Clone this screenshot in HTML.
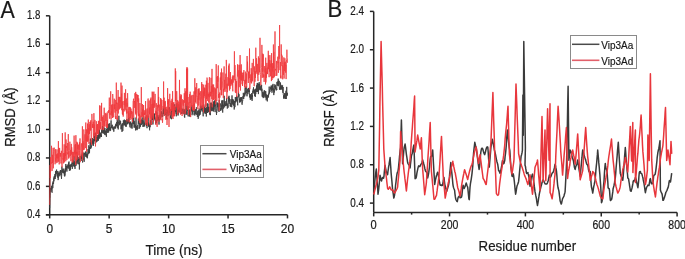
<!DOCTYPE html>
<html><head><meta charset="utf-8"><style>
html,body{margin:0;padding:0;background:#fff;width:685px;height:259px;overflow:hidden}
svg{display:block;filter:blur(0.35px)}
text{font-family:"Liberation Sans",sans-serif;fill:#1a1a1a;stroke:#1a1a1a;stroke-width:0.2px}
</style></head><body>
<svg width="685" height="259" viewBox="0 0 685 259">
<rect width="685" height="259" fill="#fff"/>
<g fill="none" stroke="#262626" stroke-width="1.5">
<path d="M49.7 15.8V214.8M45.900000000000006 214.8H287.5" /><path d="M45.900000000000006 214.80H49.7" /><path d="M45.900000000000006 186.37H49.7" /><path d="M45.900000000000006 157.94H49.7" /><path d="M45.900000000000006 129.51H49.7" /><path d="M45.900000000000006 101.09H49.7" /><path d="M45.900000000000006 72.66H49.7" /><path d="M45.900000000000006 44.23H49.7" /><path d="M45.900000000000006 15.80H49.7" /><path d="M49.70 214.8V218.4" /><path d="M109.15 214.8V218.4" /><path d="M168.60 214.8V218.4" /><path d="M228.05 214.8V218.4" /><path d="M287.50 214.8V218.4" /><path d="M373.7 11.40V212.4M373.7 212.4H677.1" /><path d="M369.9 203.10H373.7" /><path d="M369.9 164.76H373.7" /><path d="M369.9 126.42H373.7" /><path d="M369.9 88.08H373.7" /><path d="M369.9 49.74H373.7" /><path d="M369.9 11.40H373.7" /><path d="M373.70 212.4V216.4" /><path d="M411.62 212.4V214.6" /><path d="M449.55 212.4V216.4" /><path d="M487.48 212.4V214.6" /><path d="M525.40 212.4V216.4" /><path d="M563.33 212.4V214.6" /><path d="M601.25 212.4V216.4" /><path d="M639.17 212.4V214.6" /><path d="M677.10 212.4V216.4" />
</g>
<g fill="none" stroke-linejoin="round">
<path d="M49.7 208.1L49.8 202.4 49.9 198.2 50.1 197.8 50.2 195.2 50.3 193.9 50.4 192.2 50.5 188.0 50.7 189.8 50.8 191.6 50.9 189.3 51.0 187.8 51.1 187.8 51.2 190.0 51.4 189.1 51.5 185.8 51.6 188.8 51.7 188.1 51.8 191.9 52.0 192.2 52.1 192.7 52.2 188.3 52.3 188.6 52.4 184.3 52.6 182.8 52.7 182.7 52.8 188.1 52.9 185.5 53.0 183.6 53.1 181.3 53.3 183.6 53.4 182.8 53.5 183.8 53.6 183.2 53.7 178.4 53.9 181.3 54.0 179.7 54.1 176.5 54.2 178.6 54.3 177.2 54.5 176.2 54.6 176.2 54.7 179.1 54.8 177.9 54.9 174.1 55.1 179.0 55.2 175.8 55.3 176.1 55.4 177.1 55.5 171.1 55.6 170.9 55.8 175.6 55.9 174.6 56.0 172.5 56.1 173.6 56.2 171.2 56.4 172.7 56.5 171.6 56.6 169.6 56.7 173.7 56.8 173.2 57.0 174.1 57.1 173.7 57.2 176.6 57.3 176.7 57.4 176.0 57.5 173.3 57.7 171.0 57.8 176.7 57.9 177.8 58.0 174.8 58.1 180.1 58.3 179.2 58.4 178.1 58.5 172.9 58.6 172.8 58.7 174.0 58.9 174.9 59.0 175.3 59.1 171.5 59.2 173.6 59.3 173.9 59.4 173.2 59.6 173.9 59.7 173.9 59.8 176.3 59.9 174.0 60.0 174.6 60.2 170.5 60.3 170.5 60.4 170.9 60.5 170.2 60.6 173.2 60.8 170.8 60.9 172.1 61.0 170.4 61.1 174.8 61.2 172.9 61.4 176.7 61.5 178.9 61.6 176.1 61.7 175.6 61.8 172.9 61.9 166.6 62.1 170.9 62.2 172.6 62.3 171.8 62.4 169.9 62.5 171.5 62.7 171.6 62.8 169.2 62.9 168.7 63.0 172.7 63.1 172.1 63.3 171.3 63.4 173.3 63.5 171.1 63.6 172.3 63.7 168.8 63.8 168.8 64.0 169.8 64.1 171.2 64.2 170.9 64.3 175.5 64.4 175.0 64.6 171.0 64.7 176.5 64.8 171.2 64.9 175.5 65.0 170.6 65.2 171.2 65.3 168.2 65.4 168.2 65.5 172.3 65.6 167.3 65.8 164.0 65.9 165.7 66.0 167.8 66.1 167.6 66.2 170.2 66.3 165.9 66.5 167.4 66.6 166.8 66.7 169.0 66.8 169.7 66.9 171.6 67.1 166.2 67.2 166.5 67.3 164.6 67.4 165.6 67.5 167.6 67.7 167.6 67.8 168.1 67.9 166.4 68.0 166.6 68.1 166.3 68.2 168.7 68.4 167.8 68.5 162.6 68.6 164.6 68.7 167.0 68.8 164.9 69.0 161.5 69.1 167.4 69.2 166.9 69.3 167.9 69.4 170.8 69.6 166.8 69.7 165.6 69.8 164.9 69.9 166.7 70.0 164.8 70.2 166.5 70.3 166.6 70.4 169.0 70.5 170.3 70.6 164.6 70.7 166.9 70.9 165.7 71.0 166.2 71.1 167.0 71.2 166.8 71.3 163.9 71.5 165.0 71.6 165.8 71.7 165.9 71.8 163.4 71.9 162.5 72.1 163.2 72.2 165.6 72.3 168.9 72.4 164.6 72.5 161.7 72.6 163.5 72.8 162.6 72.9 161.8 73.0 160.7 73.1 160.4 73.2 163.8 73.4 160.8 73.5 166.2 73.6 163.1 73.7 161.3 73.8 160.5 74.0 156.8 74.1 156.0 74.2 162.5 74.3 166.9 74.4 162.9 74.6 165.6 74.7 163.3 74.8 161.3 74.9 165.8 75.0 168.9 75.1 165.0 75.3 163.3 75.4 162.7 75.5 161.9 75.6 163.4 75.7 165.5 75.9 164.3 76.0 164.4 76.1 165.5 76.2 160.9 76.3 159.7 76.5 158.9 76.6 161.7 76.7 162.5 76.8 163.8 76.9 163.6 77.0 161.4 77.2 162.6 77.3 161.1 77.4 160.0 77.5 155.2 77.6 161.5 77.8 159.2 77.9 159.4 78.0 160.2 78.1 164.2 78.2 163.9 78.4 160.0 78.5 159.4 78.6 159.0 78.7 160.1 78.8 157.1 78.9 157.9 79.1 164.3 79.2 162.8 79.3 164.9 79.4 169.5 79.5 164.8 79.7 157.7 79.8 156.8 79.9 160.2 80.0 160.5 80.1 156.0 80.3 156.5 80.4 156.8 80.5 157.2 80.6 157.7 80.7 156.4 80.9 156.4 81.0 156.4 81.1 158.9 81.2 156.5 81.3 157.9 81.4 154.7 81.6 158.8 81.7 157.9 81.8 157.7 81.9 161.0 82.0 155.0 82.2 152.7 82.3 156.7 82.4 155.1 82.5 155.5 82.6 162.5 82.8 159.1 82.9 158.4 83.0 157.6 83.1 160.1 83.2 159.5 83.3 159.0 83.5 154.9 83.6 154.7 83.7 155.1 83.8 152.5 83.9 156.1 84.1 157.7 84.2 161.8 84.3 155.7 84.4 154.2 84.5 153.0 84.7 153.0 84.8 154.8 84.9 154.5 85.0 155.3 85.1 156.1 85.3 155.2 85.4 151.7 85.5 151.5 85.6 153.3 85.7 155.6 85.8 156.8 86.0 152.1 86.1 152.1 86.2 153.0 86.3 154.4 86.4 157.2 86.6 157.3 86.7 154.1 86.8 156.4 86.9 156.4 87.0 155.7 87.2 154.6 87.3 158.3 87.4 156.7 87.5 157.2 87.6 153.4 87.7 155.5 87.9 153.4 88.0 149.1 88.1 151.5 88.2 152.9 88.3 151.8 88.5 151.6 88.6 153.8 88.7 151.0 88.8 145.3 88.9 148.1 89.1 149.5 89.2 152.4 89.3 149.4 89.4 152.2 89.5 153.2 89.7 146.9 89.8 149.0 89.9 145.0 90.0 142.1 90.1 142.6 90.2 142.4 90.4 138.6 90.5 142.0 90.6 145.2 90.7 148.9 90.8 146.6 91.0 141.8 91.1 140.8 91.2 145.3 91.3 147.5 91.4 147.5 91.6 145.9 91.7 145.4 91.8 143.8 91.9 141.6 92.0 142.1 92.1 142.1 92.3 141.7 92.4 143.4 92.5 142.2 92.6 138.0 92.7 138.5 92.9 139.9 93.0 144.6 93.1 141.8 93.2 145.8 93.3 146.0 93.5 141.3 93.6 139.1 93.7 140.6 93.8 143.9 93.9 142.0 94.0 141.7 94.2 138.9 94.3 133.1 94.4 135.2 94.5 138.6 94.6 141.2 94.8 139.5 94.9 139.2 95.0 140.9 95.1 138.7 95.2 140.9 95.4 136.3 95.5 134.3 95.6 132.8 95.7 136.1 95.8 135.1 96.0 136.4 96.1 138.2 96.2 138.1 96.3 141.1 96.4 142.3 96.5 137.3 96.7 138.1 96.8 137.5 96.9 135.1 97.0 140.8 97.1 141.6 97.3 138.9 97.4 137.3 97.5 138.1 97.6 135.2 97.7 135.4 97.9 139.4 98.0 140.5 98.1 136.4 98.2 135.2 98.3 140.6 98.4 135.6 98.6 134.5 98.7 131.8 98.8 134.9 98.9 136.4 99.0 138.7 99.2 129.7 99.3 132.6 99.4 129.4 99.5 133.1 99.6 134.2 99.8 138.4 99.9 137.7 100.0 133.1 100.1 136.7 100.2 132.9 100.4 132.6 100.5 135.6 100.6 136.0 100.7 135.9 100.8 135.4 100.9 136.0 101.1 136.6 101.2 134.8 101.3 135.9 101.4 137.0 101.5 133.9 101.7 129.8 101.8 133.1 101.9 130.9 102.0 131.8 102.1 132.9 102.3 128.9 102.4 130.2 102.5 125.9 102.6 129.7 102.7 129.6 102.8 130.7 103.0 133.4 103.1 130.8 103.2 131.4 103.3 130.5 103.4 130.8 103.6 133.4 103.7 132.3 103.8 130.6 103.9 127.1 104.0 130.9 104.2 129.9 104.3 133.5 104.4 129.5 104.5 131.4 104.6 134.6 104.8 132.0 104.9 128.0 105.0 132.7 105.1 133.8 105.2 134.1 105.3 135.2 105.5 131.5 105.6 132.6 105.7 132.8 105.8 130.6 105.9 132.6 106.1 130.7 106.2 133.0 106.3 134.9 106.4 136.8 106.5 128.8 106.7 130.1 106.8 129.3 106.9 129.2 107.0 129.0 107.1 128.5 107.2 123.7 107.4 128.6 107.5 132.3 107.6 132.5 107.7 133.0 107.8 127.9 108.0 125.2 108.1 127.9 108.2 130.5 108.3 128.7 108.4 123.8 108.6 132.5 108.7 127.6 108.8 129.3 108.9 125.5 109.0 128.6 109.2 128.5 109.3 130.3 109.4 130.1 109.5 125.0 109.6 123.3 109.7 125.7 109.9 127.0 110.0 131.1 110.1 130.2 110.2 128.3 110.3 127.6 110.5 127.3 110.6 130.6 110.7 128.9 110.8 127.3 110.9 124.3 111.1 120.4 111.2 124.0 111.3 126.1 111.4 125.9 111.5 127.2 111.6 127.7 111.8 126.3 111.9 128.3 112.0 124.8 112.1 125.2 112.2 125.2 112.4 124.9 112.5 126.8 112.6 128.4 112.7 127.2 112.8 128.1 113.0 126.9 113.1 126.8 113.2 130.1 113.3 127.9 113.4 129.8 113.5 129.4 113.7 128.1 113.8 131.7 113.9 128.7 114.0 126.6 114.1 126.8 114.3 126.8 114.4 126.7 114.5 128.2 114.6 127.9 114.7 128.0 114.9 126.9 115.0 128.9 115.1 126.5 115.2 125.9 115.3 125.7 115.5 126.2 115.6 124.4 115.7 128.2 115.8 125.3 115.9 124.4 116.0 123.7 116.2 123.5 116.3 126.0 116.4 126.2 116.5 123.3 116.6 122.1 116.8 122.6 116.9 126.2 117.0 123.4 117.1 120.2 117.2 118.7 117.4 120.1 117.5 124.2 117.6 120.7 117.7 122.2 117.8 128.1 117.9 124.4 118.1 127.2 118.2 129.4 118.3 127.8 118.4 122.2 118.5 123.3 118.7 122.0 118.8 117.3 118.9 115.8 119.0 118.9 119.1 121.4 119.3 125.2 119.4 125.2 119.5 122.6 119.6 122.2 119.7 122.2 119.9 120.3 120.0 124.0 120.1 123.8 120.2 122.0 120.3 122.1 120.4 121.1 120.6 121.3 120.7 124.2 120.8 123.6 120.9 126.4 121.0 129.3 121.2 126.0 121.3 125.7 121.4 124.6 121.5 128.6 121.6 127.8 121.8 128.4 121.9 128.6 122.0 131.9 122.1 128.9 122.2 124.8 122.3 123.7 122.5 125.6 122.6 124.8 122.7 123.3 122.8 130.9 122.9 128.4 123.1 125.9 123.2 124.0 123.3 120.5 123.4 120.3 123.5 122.0 123.7 123.5 123.8 122.7 123.9 125.4 124.0 125.4 124.1 122.7 124.3 119.6 124.4 123.7 124.5 124.9 124.6 124.7 124.7 120.9 124.8 122.6 125.0 120.2 125.1 124.4 125.2 125.1 125.3 126.0 125.4 122.5 125.6 120.5 125.7 125.6 125.8 126.6 125.9 123.3 126.0 124.4 126.2 126.7 126.3 122.2 126.4 121.8 126.5 120.7 126.6 122.2 126.7 119.4 126.9 121.3 127.0 118.9 127.1 123.2 127.2 124.4 127.3 122.5 127.5 123.8 127.6 121.1 127.7 120.5 127.8 123.3 127.9 122.1 128.1 123.4 128.2 120.5 128.3 122.0 128.4 123.1 128.5 119.7 128.6 115.1 128.8 113.2 128.9 117.1 129.0 119.6 129.1 117.1 129.2 120.6 129.4 124.5 129.5 123.3 129.6 122.2 129.7 124.4 129.8 126.3 130.0 127.3 130.1 122.6 130.2 124.4 130.3 123.8 130.4 123.0 130.6 121.6 130.7 123.7 130.8 122.7 130.9 125.5 131.0 126.0 131.1 128.2 131.3 124.3 131.4 124.6 131.5 126.6 131.6 126.1 131.7 125.3 131.9 123.1 132.0 127.2 132.1 128.6 132.2 126.5 132.3 118.2 132.5 118.4 132.6 121.6 132.7 120.7 132.8 117.9 132.9 122.0 133.0 123.8 133.2 121.0 133.3 121.6 133.4 120.8 133.5 124.1 133.6 119.2 133.8 117.6 133.9 119.9 134.0 120.2 134.1 127.6 134.2 123.6 134.4 124.4 134.5 122.1 134.6 121.3 134.7 122.8 134.8 127.5 135.0 125.1 135.1 126.2 135.2 125.4 135.3 126.4 135.4 125.4 135.5 130.4 135.7 123.9 135.8 122.9 135.9 120.1 136.0 117.5 136.1 119.9 136.3 125.7 136.4 126.7 136.5 128.3 136.6 127.9 136.7 126.4 136.9 130.2 137.0 126.5 137.1 129.6 137.2 126.7 137.3 125.3 137.4 125.6 137.6 125.3 137.7 125.6 137.8 126.1 137.9 129.0 138.0 126.6 138.2 121.4 138.3 118.6 138.4 118.5 138.5 120.0 138.6 123.8 138.8 120.3 138.9 122.2 139.0 123.1 139.1 124.5 139.2 125.0 139.4 126.2 139.5 126.1 139.6 128.6 139.7 128.0 139.8 121.5 139.9 124.2 140.1 125.5 140.2 124.2 140.3 123.3 140.4 126.9 140.5 126.5 140.7 123.9 140.8 123.9 140.9 123.3 141.0 120.1 141.1 123.3 141.3 122.6 141.4 123.4 141.5 119.6 141.6 125.0 141.7 125.0 141.8 124.8 142.0 121.7 142.1 120.0 142.2 117.3 142.3 123.4 142.4 120.1 142.6 121.7 142.7 123.7 142.8 121.1 142.9 123.3 143.0 126.9 143.2 125.3 143.3 126.5 143.4 125.0 143.5 121.1 143.6 120.3 143.7 116.3 143.9 118.9 144.0 124.2 144.1 124.9 144.2 124.9 144.3 126.1 144.5 122.8 144.6 123.2 144.7 126.5 144.8 121.3 144.9 121.3 145.1 120.0 145.2 119.4 145.3 118.5 145.4 119.7 145.5 116.8 145.7 116.9 145.8 118.0 145.9 119.4 146.0 124.7 146.1 124.3 146.2 124.2 146.4 122.6 146.5 125.9 146.6 120.4 146.7 121.2 146.8 125.3 147.0 128.2 147.1 126.4 147.2 123.6 147.3 124.0 147.4 122.8 147.6 124.2 147.7 122.0 147.8 124.6 147.9 124.1 148.0 121.5 148.1 115.7 148.3 121.9 148.4 123.9 148.5 126.2 148.6 123.5 148.7 126.5 148.9 126.4 149.0 124.6 149.1 126.6 149.2 126.8 149.3 125.8 149.5 129.3 149.6 130.3 149.7 128.2 149.8 125.0 149.9 123.7 150.1 127.2 150.2 125.3 150.3 121.6 150.4 120.4 150.5 121.5 150.6 123.4 150.8 120.7 150.9 122.5 151.0 124.9 151.1 124.9 151.2 119.3 151.4 119.9 151.5 116.9 151.6 119.7 151.7 117.5 151.8 119.6 152.0 119.4 152.1 113.2 152.2 114.1 152.3 118.2 152.4 119.3 152.5 119.7 152.7 116.6 152.8 120.3 152.9 124.5 153.0 123.5 153.1 122.4 153.3 121.5 153.4 117.9 153.5 118.3 153.6 116.6 153.7 120.7 153.9 117.6 154.0 113.4 154.1 114.2 154.2 115.8 154.3 117.2 154.5 113.8 154.6 118.8 154.7 119.2 154.8 117.8 154.9 116.8 155.0 119.4 155.2 118.4 155.3 120.3 155.4 120.1 155.5 119.9 155.6 123.8 155.8 122.7 155.9 119.4 156.0 123.2 156.1 121.7 156.2 120.4 156.4 122.8 156.5 120.4 156.6 122.3 156.7 118.1 156.8 112.8 156.9 111.4 157.1 115.6 157.2 116.0 157.3 117.6 157.4 117.8 157.5 115.1 157.7 120.6 157.8 117.3 157.9 119.0 158.0 115.3 158.1 116.5 158.3 119.9 158.4 118.8 158.5 117.5 158.6 118.6 158.7 117.7 158.9 120.1 159.0 124.6 159.1 119.9 159.2 117.4 159.3 117.6 159.4 117.5 159.6 115.4 159.7 118.0 159.8 120.3 159.9 119.6 160.0 115.4 160.2 118.8 160.3 114.0 160.4 116.3 160.5 118.6 160.6 113.7 160.8 114.7 160.9 117.5 161.0 116.5 161.1 113.4 161.2 111.3 161.3 113.4 161.5 112.6 161.6 111.6 161.7 113.9 161.8 113.0 161.9 113.5 162.1 115.1 162.2 116.6 162.3 115.1 162.4 115.1 162.5 116.5 162.7 117.0 162.8 112.9 162.9 113.1 163.0 111.5 163.1 110.6 163.2 111.3 163.4 108.0 163.5 113.4 163.6 111.9 163.7 114.0 163.8 108.6 164.0 106.5 164.1 114.3 164.2 115.7 164.3 112.5 164.4 110.0 164.6 108.6 164.7 110.7 164.8 109.6 164.9 108.5 165.0 109.5 165.2 107.3 165.3 114.9 165.4 111.8 165.5 113.2 165.6 109.3 165.7 111.0 165.9 113.0 166.0 111.1 166.1 114.0 166.2 116.1 166.3 118.8 166.5 115.8 166.6 113.1 166.7 110.5 166.8 111.8 166.9 109.3 167.1 111.6 167.2 112.6 167.3 111.7 167.4 110.3 167.5 112.9 167.6 113.8 167.8 114.0 167.9 114.0 168.0 116.2 168.1 111.5 168.2 113.5 168.4 112.8 168.5 114.9 168.6 112.8 168.7 111.6 168.8 113.6 169.0 107.7 169.1 109.3 169.2 106.9 169.3 107.6 169.4 111.7 169.6 112.7 169.7 110.9 169.8 111.1 169.9 110.7 170.0 111.4 170.1 115.1 170.3 113.8 170.4 118.4 170.5 113.5 170.6 114.4 170.7 114.7 170.9 113.5 171.0 111.9 171.1 115.2 171.2 116.9 171.3 117.5 171.5 119.2 171.6 116.5 171.7 109.3 171.8 112.1 171.9 109.1 172.0 111.8 172.2 109.9 172.3 110.3 172.4 109.9 172.5 107.9 172.6 104.0 172.8 105.7 172.9 107.0 173.0 110.2 173.1 108.3 173.2 109.5 173.4 107.4 173.5 108.4 173.6 105.1 173.7 111.5 173.8 111.1 174.0 108.5 174.1 109.5 174.2 111.7 174.3 111.1 174.4 113.6 174.5 111.1 174.7 104.2 174.8 104.3 174.9 109.7 175.0 110.9 175.1 111.9 175.3 108.3 175.4 110.8 175.5 112.4 175.6 109.6 175.7 107.0 175.9 109.4 176.0 111.4 176.1 113.8 176.2 113.0 176.3 116.3 176.4 110.5 176.6 110.7 176.7 108.2 176.8 103.7 176.9 103.2 177.0 108.1 177.2 105.7 177.3 104.5 177.4 108.8 177.5 111.2 177.6 110.8 177.8 114.3 177.9 108.8 178.0 115.5 178.1 115.5 178.2 113.1 178.3 112.0 178.5 109.6 178.6 108.7 178.7 108.0 178.8 104.6 178.9 111.2 179.1 109.6 179.2 111.8 179.3 110.2 179.4 109.2 179.5 110.7 179.7 111.9 179.8 107.9 179.9 107.7 180.0 109.8 180.1 105.5 180.3 102.2 180.4 110.0 180.5 109.3 180.6 103.6 180.7 105.5 180.8 107.1 181.0 109.0 181.1 110.7 181.2 110.5 181.3 111.0 181.4 108.5 181.6 110.7 181.7 112.2 181.8 114.0 181.9 112.1 182.0 113.4 182.2 112.5 182.3 109.0 182.4 109.0 182.5 108.8 182.6 109.4 182.7 109.3 182.9 110.0 183.0 111.2 183.1 109.7 183.2 113.4 183.3 108.8 183.5 109.6 183.6 112.2 183.7 112.8 183.8 113.8 183.9 112.6 184.1 113.4 184.2 109.4 184.3 111.2 184.4 116.7 184.5 115.5 184.7 117.7 184.8 114.3 184.9 110.4 185.0 109.6 185.1 113.9 185.2 114.5 185.4 108.7 185.5 109.0 185.6 109.8 185.7 107.7 185.8 103.4 186.0 104.2 186.1 107.2 186.2 107.9 186.3 107.8 186.4 110.7 186.6 113.5 186.7 112.7 186.8 114.9 186.9 113.2 187.0 112.0 187.1 105.3 187.3 110.2 187.4 110.6 187.5 110.6 187.6 109.0 187.7 107.3 187.9 110.3 188.0 112.6 188.1 116.3 188.2 116.1 188.3 112.1 188.5 111.7 188.6 113.2 188.7 113.0 188.8 112.0 188.9 110.5 189.1 112.7 189.2 112.7 189.3 116.7 189.4 116.3 189.5 109.5 189.6 115.5 189.8 114.2 189.9 112.8 190.0 113.4 190.1 115.2 190.2 113.6 190.4 113.0 190.5 112.3 190.6 116.5 190.7 114.2 190.8 115.0 191.0 114.6 191.1 112.3 191.2 110.0 191.3 108.8 191.4 111.3 191.5 108.0 191.7 106.5 191.8 106.0 191.9 105.4 192.0 109.5 192.1 110.7 192.3 109.1 192.4 113.6 192.5 111.3 192.6 111.3 192.7 112.0 192.9 115.2 193.0 114.8 193.1 112.4 193.2 109.0 193.3 107.3 193.5 108.4 193.6 109.4 193.7 111.5 193.8 109.2 193.9 109.6 194.0 107.8 194.2 104.2 194.3 106.2 194.4 111.1 194.5 112.3 194.6 114.9 194.8 115.5 194.9 110.3 195.0 110.0 195.1 114.3 195.2 112.1 195.4 109.1 195.5 111.4 195.6 113.4 195.7 114.2 195.8 112.3 195.9 111.1 196.1 109.6 196.2 108.9 196.3 108.5 196.4 107.3 196.5 108.2 196.7 114.3 196.8 114.5 196.9 113.6 197.0 115.0 197.1 112.3 197.3 114.8 197.4 116.9 197.5 111.8 197.6 111.4 197.7 111.9 197.8 111.0 198.0 110.5 198.1 112.0 198.2 118.8 198.3 117.6 198.4 116.9 198.6 117.1 198.7 114.7 198.8 110.4 198.9 112.4 199.0 115.3 199.2 108.5 199.3 111.7 199.4 115.4 199.5 114.0 199.6 112.4 199.8 114.3 199.9 111.6 200.0 113.5 200.1 114.7 200.2 113.0 200.3 110.8 200.5 112.5 200.6 110.5 200.7 110.8 200.8 104.7 200.9 110.1 201.1 107.2 201.2 109.4 201.3 110.0 201.4 109.2 201.5 107.7 201.7 106.4 201.8 107.3 201.9 110.5 202.0 111.4 202.1 109.8 202.2 109.3 202.4 107.1 202.5 108.4 202.6 107.7 202.7 105.4 202.8 107.2 203.0 112.4 203.1 114.8 203.2 116.3 203.3 109.9 203.4 111.9 203.6 107.9 203.7 107.3 203.8 104.5 203.9 105.5 204.0 108.6 204.2 110.6 204.3 110.5 204.4 110.1 204.5 112.1 204.6 111.8 204.7 106.8 204.9 113.2 205.0 111.6 205.1 113.6 205.2 112.1 205.3 109.7 205.5 110.4 205.6 108.0 205.7 113.7 205.8 109.5 205.9 111.5 206.1 109.5 206.2 109.6 206.3 116.5 206.4 114.9 206.5 112.1 206.6 107.3 206.8 108.0 206.9 108.3 207.0 112.6 207.1 107.2 207.2 103.8 207.4 106.3 207.5 108.2 207.6 113.0 207.7 109.3 207.8 103.2 208.0 104.7 208.1 104.4 208.2 106.3 208.3 110.6 208.4 106.8 208.6 112.1 208.7 111.0 208.8 109.6 208.9 107.4 209.0 106.9 209.1 106.9 209.3 110.1 209.4 111.8 209.5 110.4 209.6 111.3 209.7 112.8 209.9 114.1 210.0 112.7 210.1 115.1 210.2 114.0 210.3 115.1 210.5 111.0 210.6 108.0 210.7 102.7 210.8 109.2 210.9 109.9 211.0 106.4 211.2 107.3 211.3 107.7 211.4 102.7 211.5 105.3 211.6 108.6 211.8 111.2 211.9 108.3 212.0 106.8 212.1 110.3 212.2 111.0 212.4 108.1 212.5 105.7 212.6 106.9 212.7 105.0 212.8 103.9 212.9 109.4 213.1 107.9 213.2 105.5 213.3 106.8 213.4 111.5 213.5 109.2 213.7 106.0 213.8 101.9 213.9 109.6 214.0 101.1 214.1 106.2 214.3 103.2 214.4 101.3 214.5 100.5 214.6 102.8 214.7 106.7 214.9 104.5 215.0 106.6 215.1 112.1 215.2 101.3 215.3 102.2 215.4 99.4 215.6 105.4 215.7 101.7 215.8 100.7 215.9 100.3 216.0 104.5 216.2 108.4 216.3 108.8 216.4 113.6 216.5 115.0 216.6 111.9 216.8 112.6 216.9 110.5 217.0 109.6 217.1 103.5 217.2 102.4 217.3 105.0 217.5 103.3 217.6 107.0 217.7 107.0 217.8 104.2 217.9 108.1 218.1 108.0 218.2 110.8 218.3 107.8 218.4 103.4 218.5 107.2 218.7 106.5 218.8 108.9 218.9 109.8 219.0 112.0 219.1 105.7 219.3 100.0 219.4 102.4 219.5 106.6 219.6 104.8 219.7 105.8 219.8 104.2 220.0 105.2 220.1 104.8 220.2 103.3 220.3 106.0 220.4 107.7 220.6 110.6 220.7 109.3 220.8 110.6 220.9 108.3 221.0 109.3 221.2 107.3 221.3 104.5 221.4 107.4 221.5 108.6 221.6 109.4 221.7 104.6 221.9 100.4 222.0 100.8 222.1 103.6 222.2 100.7 222.3 106.5 222.5 102.3 222.6 105.6 222.7 112.6 222.8 102.4 222.9 100.4 223.1 105.8 223.2 105.4 223.3 105.5 223.4 104.9 223.5 108.6 223.7 108.2 223.8 105.1 223.9 103.8 224.0 100.7 224.1 101.3 224.2 95.8 224.4 100.9 224.5 101.3 224.6 106.4 224.7 107.3 224.8 101.6 225.0 105.0 225.1 103.7 225.2 103.8 225.3 106.0 225.4 105.2 225.6 106.0 225.7 105.5 225.8 102.7 225.9 101.2 226.0 103.5 226.1 105.8 226.3 104.2 226.4 105.1 226.5 102.6 226.6 98.0 226.7 99.5 226.9 102.4 227.0 103.8 227.1 106.2 227.2 107.9 227.3 108.6 227.5 107.6 227.6 106.9 227.7 103.6 227.8 105.3 227.9 105.2 228.1 107.7 228.2 101.9 228.3 101.3 228.4 97.2 228.5 98.1 228.6 96.9 228.8 101.6 228.9 101.0 229.0 95.8 229.1 103.8 229.2 101.1 229.4 98.3 229.5 100.5 229.6 100.6 229.7 99.7 229.8 103.5 230.0 103.5 230.1 106.3 230.2 106.3 230.3 106.4 230.4 105.0 230.5 103.8 230.7 102.9 230.8 106.8 230.9 99.9 231.0 99.1 231.1 99.3 231.3 101.7 231.4 101.9 231.5 101.4 231.6 101.5 231.7 107.2 231.9 103.0 232.0 95.4 232.1 103.3 232.2 100.7 232.3 101.3 232.4 102.4 232.6 99.2 232.7 104.4 232.8 103.2 232.9 99.1 233.0 101.3 233.2 103.4 233.3 103.8 233.4 105.0 233.5 100.3 233.6 104.3 233.8 101.8 233.9 106.1 234.0 102.8 234.1 103.2 234.2 109.5 234.4 106.6 234.5 107.7 234.6 106.3 234.7 101.0 234.8 105.3 234.9 107.1 235.1 100.8 235.2 101.2 235.3 97.1 235.4 98.5 235.5 102.2 235.7 102.5 235.8 99.2 235.9 97.4 236.0 99.0 236.1 99.4 236.3 99.8 236.4 101.3 236.5 95.7 236.6 97.6 236.7 101.2 236.8 101.2 237.0 98.1 237.1 96.7 237.2 98.3 237.3 100.4 237.4 100.0 237.6 103.4 237.7 105.3 237.8 100.5 237.9 100.2 238.0 98.5 238.2 96.0 238.3 95.8 238.4 96.7 238.5 92.2 238.6 93.3 238.8 96.5 238.9 95.5 239.0 94.3 239.1 97.6 239.2 97.2 239.3 97.7 239.5 102.3 239.6 99.9 239.7 98.8 239.8 98.7 239.9 102.5 240.1 100.5 240.2 99.1 240.3 98.1 240.4 101.4 240.5 98.4 240.7 101.8 240.8 100.7 240.9 97.0 241.0 99.7 241.1 100.5 241.2 97.4 241.4 99.5 241.5 100.4 241.6 98.9 241.7 97.2 241.8 104.0 242.0 104.4 242.1 104.8 242.2 104.5 242.3 104.1 242.4 103.6 242.6 100.6 242.7 101.0 242.8 98.6 242.9 96.3 243.0 98.8 243.2 98.0 243.3 92.9 243.4 93.9 243.5 96.8 243.6 96.5 243.7 99.0 243.9 96.5 244.0 93.9 244.1 96.5 244.2 96.5 244.3 92.7 244.5 95.1 244.6 93.9 244.7 95.9 244.8 96.2 244.9 95.4 245.1 88.1 245.2 92.1 245.3 93.3 245.4 94.3 245.5 93.6 245.6 91.3 245.8 91.8 245.9 87.2 246.0 89.0 246.1 86.2 246.2 88.3 246.4 88.7 246.5 93.0 246.6 92.6 246.7 91.1 246.8 91.2 247.0 96.3 247.1 90.7 247.2 90.5 247.3 91.5 247.4 90.6 247.5 90.8 247.7 88.7 247.8 92.4 247.9 94.2 248.0 91.6 248.1 90.5 248.3 90.6 248.4 91.0 248.5 92.2 248.6 91.2 248.7 88.0 248.9 92.0 249.0 88.0 249.1 87.8 249.2 92.0 249.3 90.4 249.5 95.2 249.6 97.2 249.7 97.5 249.8 95.9 249.9 94.7 250.0 95.3 250.2 94.1 250.3 99.8 250.4 95.1 250.5 97.7 250.6 97.8 250.8 97.0 250.9 98.1 251.0 99.2 251.1 98.9 251.2 96.8 251.4 94.5 251.5 93.2 251.6 96.1 251.7 97.7 251.8 99.2 251.9 95.8 252.1 100.9 252.2 94.7 252.3 96.0 252.4 97.1 252.5 94.4 252.7 91.5 252.8 91.7 252.9 90.7 253.0 92.7 253.1 90.6 253.3 88.8 253.4 90.9 253.5 87.3 253.6 89.1 253.7 90.1 253.9 92.6 254.0 92.5 254.1 89.8 254.2 94.0 254.3 90.5 254.4 90.1 254.6 89.6 254.7 96.1 254.8 93.2 254.9 90.6 255.0 92.0 255.2 91.4 255.3 96.9 255.4 91.4 255.5 92.5 255.6 89.1 255.8 94.1 255.9 91.2 256.0 91.2 256.1 88.4 256.2 91.7 256.3 92.0 256.5 85.4 256.6 89.8 256.7 91.3 256.8 91.1 256.9 91.5 257.1 87.4 257.2 83.2 257.3 86.7 257.4 91.9 257.5 87.5 257.7 84.6 257.8 84.1 257.9 82.9 258.0 86.8 258.1 87.5 258.3 91.2 258.4 94.1 258.5 88.9 258.6 90.8 258.7 84.0 258.8 86.0 259.0 89.4 259.1 86.4 259.2 82.2 259.3 83.2 259.4 88.7 259.6 87.3 259.7 84.3 259.8 87.5 259.9 90.1 260.0 86.5 260.2 86.8 260.3 89.9 260.4 90.0 260.5 90.2 260.6 87.9 260.7 88.5 260.9 85.9 261.0 85.4 261.1 90.3 261.2 88.3 261.3 86.0 261.5 86.5 261.6 84.9 261.7 88.5 261.8 91.5 261.9 88.7 262.1 91.9 262.2 96.6 262.3 91.9 262.4 93.2 262.5 93.3 262.6 95.9 262.8 97.0 262.9 96.8 263.0 94.7 263.1 92.5 263.2 98.1 263.4 94.0 263.5 95.8 263.6 96.7 263.7 92.5 263.8 92.9 264.0 97.6 264.1 90.6 264.2 94.3 264.3 93.6 264.4 93.5 264.6 90.4 264.7 93.5 264.8 92.4 264.9 95.5 265.0 93.1 265.1 96.8 265.3 96.8 265.4 91.5 265.5 93.2 265.6 95.5 265.7 91.1 265.9 93.4 266.0 97.8 266.1 96.3 266.2 100.3 266.3 96.9 266.5 94.5 266.6 97.3 266.7 98.4 266.8 97.5 266.9 97.0 267.0 99.0 267.2 96.4 267.3 101.4 267.4 98.8 267.5 97.8 267.6 96.5 267.8 94.8 267.9 97.4 268.0 95.0 268.1 95.2 268.2 95.9 268.4 97.2 268.5 97.4 268.6 93.6 268.7 95.1 268.8 93.7 269.0 90.3 269.1 88.4 269.2 86.6 269.3 89.6 269.4 93.6 269.5 91.0 269.7 91.4 269.8 90.0 269.9 92.1 270.0 89.3 270.1 89.0 270.3 88.8 270.4 88.7 270.5 88.5 270.6 89.1 270.7 88.9 270.9 87.0 271.0 89.9 271.1 85.6 271.2 88.8 271.3 87.7 271.4 89.6 271.6 90.7 271.7 85.9 271.8 89.2 271.9 92.7 272.0 92.7 272.2 91.8 272.3 84.9 272.4 86.8 272.5 85.9 272.6 90.1 272.8 89.1 272.9 88.0 273.0 83.9 273.1 88.5 273.2 88.0 273.4 88.1 273.5 90.7 273.6 89.9 273.7 89.6 273.8 95.1 273.9 90.8 274.1 89.0 274.2 90.4 274.3 92.5 274.4 87.6 274.5 87.2 274.7 85.9 274.8 84.3 274.9 87.7 275.0 86.1 275.1 87.9 275.3 89.0 275.4 89.0 275.5 89.3 275.6 85.2 275.7 86.3 275.8 87.3 276.0 88.6 276.1 87.6 276.2 90.5 276.3 90.2 276.4 89.2 276.6 89.5 276.7 89.0 276.8 89.9 276.9 83.1 277.0 82.0 277.2 84.2 277.3 85.7 277.4 81.5 277.5 83.7 277.6 85.2 277.8 85.4 277.9 84.8 278.0 82.2 278.1 83.5 278.2 78.6 278.3 83.9 278.5 82.5 278.6 86.2 278.7 80.8 278.8 83.1 278.9 84.5 279.1 82.1 279.2 80.9 279.3 86.3 279.4 87.7 279.5 89.6 279.7 87.3 279.8 86.7 279.9 87.5 280.0 88.2 280.1 89.0 280.2 89.8 280.4 86.1 280.5 82.5 280.6 89.2 280.7 87.8 280.8 88.4 281.0 86.3 281.1 88.4 281.2 87.6 281.3 89.3 281.4 86.2 281.6 86.0 281.7 86.5 281.8 84.9 281.9 85.7 282.0 89.7 282.1 87.8 282.3 87.0 282.4 87.7 282.5 86.0 282.6 85.5 282.7 91.2 282.9 92.8 283.0 88.7 283.1 87.0 283.2 91.5 283.3 94.5 283.5 95.1 283.6 95.3 283.7 98.5 283.8 95.4 283.9 97.2 284.1 98.5 284.2 94.6 284.3 96.8 284.4 96.2 284.5 94.8 284.6 93.3 284.8 95.6 284.9 95.9 285.0 98.3 285.1 93.2 285.2 94.1 285.4 99.0 285.5 97.9 285.6 96.9 285.7 96.2 285.8 91.7 286.0 90.7 286.1 95.0 286.2 96.2 286.3 99.0 286.4 96.0 286.5 94.1 286.7 86.9 286.8 89.1 286.9 96.1 287.0 95.5 287.1 93.4 287.3 95.3 287.4 94.7 287.5 92.7" stroke="#404040" stroke-width="0.9"/>
<path d="M49.7 204.9L49.9 186.4 50.1 165.1 50.3 178.0 50.5 157.2 50.7 171.4 50.9 163.9 51.1 162.5 51.3 163.6 51.5 145.8 51.7 155.6 51.9 155.4 52.1 170.9 52.3 154.8 52.5 163.0 52.7 161.4 52.9 158.6 53.1 147.8 53.3 168.3 53.5 162.8 53.7 151.5 53.9 148.7 54.1 148.2 54.3 147.7 54.5 149.3 54.7 156.1 54.9 162.4 55.1 164.3 55.2 163.0 55.4 157.0 55.6 149.2 55.8 161.5 56.0 157.9 56.2 163.2 56.4 154.3 56.6 158.1 56.8 154.8 57.0 149.4 57.2 161.5 57.4 162.5 57.6 153.5 57.8 158.4 58.0 157.4 58.2 157.9 58.4 141.1 58.6 161.7 58.8 148.0 59.0 151.3 59.2 164.4 59.4 159.0 59.6 147.9 59.8 153.8 60.0 154.5 60.2 156.7 60.4 156.3 60.6 152.9 60.8 161.6 61.0 163.5 61.2 159.7 61.4 150.8 61.6 153.7 61.8 154.1 62.0 167.2 62.2 150.0 62.4 133.1 62.6 147.9 62.8 157.3 63.0 159.6 63.2 158.1 63.4 163.4 63.6 153.1 63.8 160.8 64.0 150.8 64.2 144.3 64.4 162.4 64.6 152.9 64.8 158.6 65.0 156.3 65.2 132.4 65.4 155.9 65.6 145.7 65.8 161.3 65.9 145.8 66.1 139.5 66.3 147.8 66.5 146.1 66.7 153.6 66.9 159.9 67.1 152.3 67.3 154.4 67.5 152.1 67.7 143.0 67.9 150.6 68.1 146.1 68.3 134.1 68.5 154.7 68.7 158.6 68.9 151.3 69.1 157.5 69.3 151.0 69.5 150.8 69.7 143.8 69.9 141.7 70.1 147.5 70.3 155.9 70.5 153.3 70.7 149.9 70.9 161.2 71.1 150.0 71.3 143.9 71.5 154.5 71.7 147.2 71.9 149.9 72.1 162.3 72.3 159.0 72.5 160.6 72.7 151.8 72.9 162.4 73.1 152.0 73.3 152.4 73.5 152.4 73.7 159.8 73.9 160.0 74.1 135.6 74.3 157.1 74.5 150.6 74.7 151.8 74.9 153.2 75.1 144.6 75.3 154.4 75.5 144.2 75.7 164.9 75.9 135.2 76.1 160.8 76.3 154.0 76.5 152.2 76.7 154.1 76.8 141.7 77.0 159.8 77.2 151.5 77.4 155.6 77.6 142.6 77.8 148.9 78.0 145.0 78.2 150.6 78.4 145.4 78.6 144.6 78.8 155.3 79.0 150.9 79.2 158.5 79.4 149.8 79.6 142.2 79.8 150.2 80.0 138.4 80.2 162.2 80.4 159.2 80.6 158.7 80.8 155.2 81.0 153.2 81.2 147.6 81.4 144.8 81.6 143.4 81.8 153.9 82.0 156.4 82.2 155.7 82.4 126.3 82.6 160.5 82.8 153.9 83.0 141.4 83.2 144.6 83.4 149.9 83.6 142.4 83.8 129.4 84.0 132.9 84.2 149.7 84.4 146.0 84.6 145.3 84.8 135.8 85.0 134.3 85.2 141.2 85.4 148.1 85.6 131.8 85.8 122.5 86.0 137.1 86.2 141.0 86.4 129.4 86.6 151.9 86.8 136.9 87.0 141.2 87.2 129.6 87.4 133.2 87.5 123.6 87.7 141.8 87.9 135.6 88.1 140.7 88.3 119.6 88.5 134.9 88.7 128.0 88.9 143.8 89.1 135.2 89.3 124.3 89.5 133.9 89.7 129.1 89.9 121.9 90.1 125.2 90.3 130.7 90.5 121.6 90.7 129.9 90.9 120.2 91.1 142.5 91.3 140.5 91.5 145.0 91.7 131.8 91.9 113.9 92.1 118.7 92.3 125.9 92.5 127.6 92.7 124.0 92.9 128.0 93.1 125.7 93.3 121.7 93.5 138.4 93.7 132.2 93.9 113.2 94.1 128.2 94.3 124.5 94.5 130.1 94.7 136.1 94.9 119.9 95.1 133.4 95.3 132.8 95.5 146.4 95.7 137.3 95.9 140.1 96.1 138.0 96.3 121.2 96.5 126.7 96.7 137.0 96.9 125.1 97.1 126.6 97.3 134.2 97.5 124.0 97.7 133.5 97.9 132.5 98.1 131.1 98.3 126.6 98.4 120.8 98.6 134.4 98.8 131.7 99.0 130.9 99.2 121.0 99.4 130.0 99.6 105.4 99.8 124.1 100.0 128.1 100.2 127.8 100.4 122.2 100.6 129.3 100.8 118.2 101.0 105.7 101.2 120.9 101.4 119.1 101.6 102.9 101.8 128.8 102.0 130.1 102.2 128.2 102.4 123.7 102.6 116.8 102.8 125.8 103.0 121.1 103.2 115.3 103.4 117.4 103.6 130.0 103.8 121.5 104.0 122.0 104.2 107.7 104.4 119.0 104.6 126.4 104.8 120.9 105.0 126.7 105.2 112.9 105.4 113.3 105.6 113.8 105.8 121.0 106.0 113.8 106.2 121.7 106.4 123.1 106.6 123.4 106.8 128.0 107.0 112.6 107.2 127.7 107.4 120.0 107.6 126.6 107.8 116.2 108.0 111.2 108.2 112.7 108.4 112.8 108.6 111.3 108.8 110.0 109.0 112.4 109.2 101.8 109.3 97.6 109.5 106.3 109.7 118.7 109.9 112.8 110.1 114.9 110.3 110.1 110.5 104.2 110.7 91.3 110.9 109.0 111.1 119.6 111.3 111.2 111.5 113.2 111.7 104.8 111.9 115.5 112.1 110.9 112.3 104.1 112.5 118.0 112.7 94.0 112.9 97.2 113.1 102.0 113.3 103.5 113.5 104.9 113.7 117.3 113.9 106.3 114.1 102.5 114.3 98.7 114.5 109.2 114.7 104.4 114.9 112.0 115.1 112.7 115.3 99.9 115.5 106.8 115.7 119.0 115.9 116.1 116.1 119.1 116.3 82.6 116.5 104.0 116.7 102.6 116.9 111.2 117.1 102.8 117.3 116.8 117.5 120.1 117.7 113.6 117.9 105.6 118.1 90.0 118.3 113.5 118.5 101.1 118.7 96.9 118.9 104.1 119.1 109.5 119.3 109.2 119.5 103.5 119.7 97.2 119.9 108.6 120.0 96.8 120.2 101.7 120.4 100.1 120.6 101.3 120.8 108.0 121.0 82.6 121.2 106.6 121.4 101.3 121.6 93.6 121.8 110.2 122.0 85.6 122.2 107.0 122.4 114.2 122.6 101.4 122.8 114.8 123.0 109.0 123.2 116.6 123.4 110.6 123.6 108.5 123.8 107.8 124.0 101.0 124.2 105.2 124.4 92.9 124.6 104.0 124.8 111.4 125.0 100.1 125.2 109.9 125.4 108.1 125.6 89.3 125.8 100.4 126.0 106.7 126.2 102.9 126.4 98.5 126.6 113.5 126.8 109.3 127.0 121.5 127.2 102.8 127.4 106.7 127.6 93.1 127.8 100.6 128.0 113.3 128.2 111.5 128.4 118.4 128.6 110.3 128.8 107.2 129.0 112.1 129.2 122.3 129.4 110.6 129.6 106.9 129.8 107.1 130.0 107.4 130.2 119.9 130.4 107.5 130.6 117.9 130.8 116.4 130.9 109.5 131.1 108.7 131.3 114.2 131.5 111.0 131.7 116.2 131.9 119.2 132.1 111.5 132.3 113.4 132.5 122.1 132.7 114.5 132.9 111.1 133.1 101.0 133.3 100.8 133.5 98.7 133.7 117.7 133.9 104.5 134.1 101.3 134.3 102.0 134.5 101.1 134.7 107.9 134.9 93.2 135.1 96.6 135.3 101.2 135.5 113.4 135.7 91.9 135.9 114.6 136.1 101.7 136.3 93.9 136.5 118.5 136.7 116.4 136.9 115.0 137.1 113.7 137.3 110.4 137.5 94.7 137.7 101.7 137.9 101.4 138.1 95.0 138.3 111.4 138.5 115.9 138.7 98.4 138.9 118.3 139.1 121.0 139.3 113.8 139.5 118.9 139.7 122.8 139.9 103.0 140.1 115.1 140.3 115.9 140.5 115.8 140.7 123.4 140.9 120.6 141.1 106.5 141.3 87.1 141.5 102.4 141.6 107.3 141.8 117.1 142.0 112.2 142.2 117.0 142.4 104.0 142.6 115.7 142.8 109.1 143.0 111.0 143.2 113.9 143.4 117.8 143.6 105.0 143.8 120.0 144.0 117.1 144.2 112.9 144.4 115.1 144.6 111.2 144.8 110.3 145.0 114.6 145.2 113.9 145.4 113.3 145.6 101.1 145.8 124.9 146.0 109.4 146.2 122.4 146.4 123.1 146.6 115.2 146.8 121.6 147.0 116.9 147.2 108.4 147.4 125.8 147.6 113.8 147.8 101.0 148.0 98.7 148.2 98.5 148.4 113.7 148.6 117.6 148.8 116.1 149.0 107.0 149.2 100.5 149.4 114.3 149.6 110.4 149.8 107.5 150.0 125.2 150.2 113.4 150.4 98.8 150.6 99.5 150.8 118.8 151.0 97.5 151.2 117.0 151.4 118.5 151.6 124.6 151.8 104.3 152.0 118.5 152.2 91.6 152.4 104.9 152.5 104.3 152.7 115.3 152.9 92.2 153.1 108.1 153.3 103.4 153.5 122.3 153.7 95.4 153.9 91.6 154.1 108.0 154.3 100.3 154.5 100.3 154.7 103.5 154.9 106.7 155.1 93.9 155.3 111.4 155.5 114.6 155.7 110.8 155.9 125.0 156.1 119.3 156.3 103.2 156.5 107.4 156.7 119.8 156.9 113.1 157.1 126.9 157.3 117.3 157.5 109.7 157.7 104.9 157.9 110.8 158.1 96.2 158.3 87.0 158.5 107.3 158.7 96.9 158.9 120.7 159.1 121.8 159.3 104.6 159.5 110.8 159.7 112.5 159.9 119.1 160.1 116.8 160.3 111.9 160.5 98.2 160.7 112.6 160.9 119.8 161.1 98.7 161.3 102.2 161.5 106.1 161.7 110.3 161.9 100.0 162.1 120.4 162.3 119.0 162.5 122.8 162.7 120.1 162.9 116.4 163.1 106.0 163.2 106.3 163.4 108.3 163.6 81.5 163.8 108.4 164.0 99.0 164.2 97.7 164.4 115.7 164.6 101.7 164.8 103.6 165.0 113.5 165.2 100.9 165.4 103.1 165.6 106.3 165.8 114.7 166.0 120.0 166.2 112.6 166.4 110.9 166.6 111.6 166.8 106.8 167.0 125.0 167.2 118.2 167.4 119.4 167.6 88.1 167.8 104.1 168.0 101.0 168.2 109.7 168.4 99.2 168.6 114.7 168.8 109.4 169.0 127.0 169.2 106.6 169.4 103.3 169.6 102.3 169.8 93.8 170.0 110.6 170.2 115.4 170.4 109.0 170.6 111.0 170.8 109.8 171.0 100.7 171.2 110.9 171.4 104.6 171.6 103.0 171.8 109.1 172.0 98.8 172.2 117.6 172.4 109.0 172.6 91.1 172.8 112.6 173.0 119.0 173.2 104.3 173.4 102.7 173.6 116.2 173.8 102.2 174.0 113.8 174.1 116.3 174.3 111.3 174.5 116.1 174.7 110.7 174.9 106.0 175.1 110.2 175.3 68.4 175.5 101.1 175.7 71.2 175.9 103.2 176.1 106.5 176.3 107.6 176.5 102.0 176.7 91.1 176.9 96.1 177.1 104.5 177.3 103.5 177.5 114.9 177.7 100.1 177.9 109.5 178.1 107.5 178.3 101.5 178.5 109.4 178.7 104.6 178.9 113.2 179.1 111.5 179.3 101.6 179.5 79.9 179.7 106.7 179.9 107.6 180.1 112.5 180.3 96.2 180.5 114.6 180.7 101.1 180.9 94.2 181.1 112.3 181.3 95.1 181.5 99.7 181.7 110.0 181.9 111.0 182.1 116.0 182.3 110.8 182.5 99.4 182.7 100.3 182.9 104.1 183.1 104.8 183.3 105.7 183.5 100.2 183.7 111.4 183.9 114.4 184.1 98.3 184.3 93.2 184.5 100.4 184.7 102.8 184.8 97.7 185.0 88.3 185.2 113.8 185.4 112.2 185.6 106.6 185.8 91.4 186.0 103.1 186.2 91.4 186.4 106.0 186.6 68.6 186.8 98.8 187.0 67.0 187.2 109.8 187.4 91.7 187.6 68.4 187.8 104.8 188.0 97.0 188.2 109.7 188.4 106.1 188.6 115.1 188.8 109.8 189.0 102.3 189.2 108.2 189.4 97.9 189.6 94.2 189.8 96.1 190.0 103.0 190.2 91.7 190.4 113.5 190.6 117.1 190.8 100.7 191.0 99.0 191.2 95.8 191.4 102.8 191.6 106.5 191.8 102.3 192.0 94.9 192.2 103.0 192.4 104.3 192.6 109.8 192.8 107.2 193.0 100.0 193.2 94.9 193.4 110.8 193.6 106.6 193.8 103.9 194.0 91.4 194.2 105.7 194.4 103.4 194.6 110.4 194.8 78.3 195.0 94.1 195.2 90.7 195.4 102.2 195.6 98.3 195.7 87.4 195.9 102.7 196.1 103.5 196.3 94.4 196.5 89.2 196.7 83.0 196.9 89.8 197.1 96.8 197.3 96.5 197.5 97.5 197.7 105.8 197.9 109.2 198.1 89.1 198.3 105.6 198.5 88.8 198.7 99.0 198.9 99.7 199.1 88.3 199.3 94.8 199.5 92.9 199.7 101.4 199.9 105.4 200.1 109.3 200.3 91.2 200.5 96.2 200.7 105.9 200.9 103.0 201.1 101.9 201.3 98.0 201.5 98.2 201.7 82.1 201.9 108.4 202.1 84.0 202.3 87.8 202.5 97.0 202.7 106.8 202.9 107.9 203.1 101.4 203.3 91.4 203.5 112.3 203.7 84.6 203.9 98.3 204.1 87.4 204.3 94.1 204.5 88.6 204.7 96.2 204.9 88.2 205.1 98.3 205.3 107.6 205.5 97.2 205.7 93.9 205.9 84.7 206.1 106.5 206.3 99.8 206.4 80.7 206.6 98.9 206.8 98.0 207.0 77.6 207.2 78.9 207.4 100.9 207.6 88.6 207.8 88.7 208.0 82.9 208.2 96.4 208.4 94.0 208.6 102.5 208.8 100.0 209.0 92.5 209.2 97.4 209.4 77.2 209.6 95.4 209.8 112.5 210.0 93.9 210.2 96.3 210.4 91.8 210.6 93.4 210.8 96.3 211.0 77.8 211.2 93.5 211.4 85.9 211.6 91.1 211.8 99.1 212.0 68.9 212.2 107.4 212.4 94.4 212.6 84.5 212.8 92.1 213.0 87.7 213.2 92.0 213.4 100.1 213.6 84.5 213.8 96.3 214.0 100.1 214.2 98.3 214.4 98.8 214.6 87.5 214.8 88.1 215.0 91.2 215.2 98.2 215.4 88.6 215.6 104.4 215.8 91.3 216.0 86.9 216.2 64.1 216.4 85.1 216.6 94.3 216.8 101.1 217.0 76.9 217.2 82.4 217.3 82.5 217.5 88.2 217.7 76.0 217.9 81.7 218.1 75.1 218.3 65.4 218.5 97.8 218.7 94.0 218.9 95.4 219.1 110.7 219.3 103.1 219.5 95.5 219.7 92.5 219.9 97.6 220.1 83.7 220.3 77.5 220.5 89.8 220.7 75.5 220.9 72.4 221.1 84.1 221.3 95.0 221.5 68.6 221.7 95.3 221.9 94.7 222.1 87.8 222.3 87.7 222.5 81.2 222.7 80.9 222.9 72.5 223.1 82.4 223.3 97.8 223.5 93.5 223.7 88.8 223.9 91.6 224.1 66.4 224.3 84.5 224.5 89.6 224.7 79.9 224.9 83.9 225.1 91.8 225.3 88.9 225.5 77.0 225.7 76.5 225.9 73.6 226.1 88.6 226.3 59.9 226.5 66.3 226.7 78.7 226.9 99.0 227.1 83.7 227.3 92.2 227.5 91.3 227.7 89.6 227.9 77.2 228.1 80.9 228.2 86.1 228.4 81.2 228.6 65.6 228.8 84.8 229.0 79.8 229.2 63.6 229.4 80.6 229.6 90.5 229.8 78.3 230.0 88.9 230.2 82.9 230.4 72.0 230.6 84.9 230.8 86.1 231.0 81.4 231.2 84.0 231.4 80.1 231.6 82.4 231.8 79.2 232.0 85.2 232.2 77.9 232.4 76.5 232.6 88.5 232.8 91.3 233.0 75.2 233.2 82.6 233.4 80.0 233.6 76.2 233.8 76.2 234.0 77.1 234.2 76.0 234.4 51.3 234.6 70.3 234.8 80.3 235.0 65.1 235.2 91.6 235.4 92.5 235.6 79.1 235.8 83.3 236.0 93.1 236.2 83.9 236.4 87.4 236.6 81.1 236.8 96.9 237.0 78.7 237.2 76.5 237.4 71.3 237.6 64.3 237.8 76.6 238.0 64.9 238.2 72.1 238.4 90.7 238.6 93.1 238.8 70.3 238.9 79.7 239.1 87.2 239.3 86.0 239.5 83.3 239.7 64.8 239.9 78.8 240.1 55.1 240.3 80.3 240.5 90.5 240.7 70.9 240.9 80.2 241.1 79.9 241.3 64.4 241.5 80.4 241.7 72.3 241.9 81.6 242.1 84.3 242.3 75.2 242.5 86.0 242.7 72.9 242.9 74.7 243.1 78.4 243.3 72.5 243.5 72.8 243.7 80.8 243.9 70.1 244.1 82.5 244.3 83.8 244.5 87.4 244.7 83.3 244.9 80.1 245.1 87.6 245.3 79.6 245.5 83.9 245.7 71.6 245.9 82.4 246.1 77.6 246.3 73.4 246.5 76.0 246.7 87.6 246.9 71.8 247.1 56.0 247.3 71.8 247.5 61.7 247.7 69.5 247.9 71.6 248.1 78.6 248.3 83.0 248.5 71.9 248.7 79.3 248.9 72.5 249.1 71.3 249.3 78.0 249.5 48.5 249.7 76.2 249.8 89.3 250.0 85.4 250.2 82.7 250.4 78.9 250.6 79.5 250.8 74.4 251.0 82.5 251.2 68.2 251.4 73.2 251.6 83.4 251.8 72.7 252.0 80.1 252.2 62.9 252.4 81.2 252.6 81.3 252.8 75.1 253.0 72.5 253.2 67.4 253.4 58.9 253.6 70.0 253.8 72.3 254.0 75.2 254.2 86.2 254.4 66.4 254.6 76.1 254.8 76.8 255.0 81.7 255.2 71.0 255.4 77.9 255.6 71.7 255.8 47.7 256.0 67.4 256.2 71.7 256.4 72.4 256.6 58.2 256.8 66.1 257.0 74.1 257.2 64.7 257.4 63.9 257.6 76.3 257.8 78.6 258.0 81.1 258.2 71.5 258.4 56.4 258.6 60.3 258.8 74.8 259.0 62.3 259.2 58.2 259.4 72.3 259.6 67.2 259.8 67.5 260.0 37.8 260.2 68.2 260.4 72.8 260.5 74.6 260.7 83.7 260.9 85.3 261.1 79.9 261.3 78.3 261.5 67.6 261.7 62.1 261.9 44.9 262.1 57.2 262.3 77.8 262.5 72.5 262.7 53.6 262.9 71.6 263.1 62.7 263.3 54.3 263.5 77.4 263.7 74.4 263.9 76.9 264.1 81.9 264.3 78.7 264.5 76.0 264.7 66.1 264.9 72.4 265.1 71.5 265.3 68.4 265.5 84.4 265.7 57.7 265.9 82.4 266.1 77.3 266.3 71.7 266.5 77.7 266.7 67.7 266.9 62.9 267.1 73.9 267.3 67.5 267.5 74.1 267.7 65.3 267.9 65.4 268.1 59.7 268.3 50.8 268.5 69.2 268.7 55.3 268.9 60.9 269.1 77.2 269.3 59.9 269.5 67.4 269.7 71.6 269.9 55.1 270.1 59.4 270.3 60.2 270.5 76.3 270.7 67.8 270.9 63.7 271.1 67.4 271.3 60.4 271.4 81.1 271.6 53.1 271.8 71.0 272.0 80.0 272.2 76.3 272.4 78.0 272.6 63.2 272.8 71.5 273.0 66.3 273.2 78.2 273.4 44.5 273.6 68.0 273.8 51.8 274.0 77.4 274.2 70.5 274.4 76.5 274.6 65.0 274.8 56.3 275.0 31.4 275.2 70.5 275.4 68.9 275.6 70.4 275.8 70.5 276.0 76.0 276.2 72.3 276.4 64.1 276.6 60.9 276.8 75.7 277.0 70.5 277.2 68.2 277.4 65.4 277.6 64.2 277.8 56.7 278.0 62.9 278.2 61.6 278.4 72.8 278.6 53.9 278.8 46.0 279.0 57.4 279.2 58.8 279.4 56.0 279.6 25.0 279.8 68.5 280.0 70.2 280.2 67.2 280.4 62.0 280.6 77.8 280.8 75.6 281.0 78.6 281.2 44.4 281.4 55.5 281.6 54.3 281.8 65.0 282.0 66.1 282.1 55.6 282.3 60.8 282.5 64.4 282.7 79.3 282.9 65.7 283.1 74.2 283.3 74.4 283.5 74.9 283.7 59.3 283.9 57.4 284.1 78.5 284.3 62.5 284.5 64.6 284.7 71.1 284.9 58.3 285.1 65.6 285.3 61.7 285.5 69.3 285.7 72.7 285.9 64.9 286.1 79.1 286.3 70.0 286.5 60.5 286.7 61.2 286.9 49.7 287.1 57.4 287.3 58.4 287.5 62.8" stroke="#f03a3e" stroke-width="0.8"/>
<path d="M373.8 191.7 L374.1 189.2 L374.5 185.3 L374.8 181.3 L375.2 177.2 L375.6 174.0 L375.9 171.5 L376.3 169.1 L376.6 174.1 L377.0 178.9 L377.3 183.7 L377.7 188.5 L378.0 194.2 L378.4 191.3 L378.8 188.3 L379.2 184.3 L379.6 179.8 L380.0 175.3 L380.4 176.6 L380.7 178.3 L381.1 180.1 L381.5 181.0 L381.8 179.8 L382.2 178.6 L382.5 177.5 L382.9 177.5 L383.3 177.8 L383.6 178.1 L384.0 176.0 L384.3 172.3 L384.7 168.6 L385.0 165.3 L385.4 167.3 L385.8 169.3 L386.1 171.3 L386.5 172.2 L386.8 173.0 L387.2 173.8 L387.6 174.7 L387.9 171.9 L388.3 169.3 L388.6 166.8 L389.0 164.9 L389.3 162.7 L389.7 160.3 L390.1 157.5 L390.4 162.6 L390.8 167.7 L391.1 172.7 L391.5 177.1 L391.9 181.2 L392.2 185.1 L392.6 189.8 L393.0 192.2 L393.4 194.8 L393.8 198.1 L394.2 196.7 L394.5 195.3 L394.9 192.0 L395.3 188.5 L395.6 185.0 L396.0 182.0 L396.3 179.1 L396.7 175.9 L397.1 173.3 L397.4 172.4 L397.8 171.5 L398.1 170.6 L398.5 167.6 L398.8 164.3 L399.2 160.5 L399.5 156.7 L399.9 153.2 L400.2 150.2 L400.6 147.7 L401.0 134.1 L401.4 120.1 L401.8 134.5 L402.2 149.1 L402.6 163.8 L403.0 159.9 L403.4 155.5 L403.7 151.7 L404.1 148.2 L404.4 146.7 L404.8 145.3 L405.1 144.0 L405.5 146.8 L405.9 150.2 L406.4 154.3 L406.8 156.9 L407.2 159.6 L407.6 162.3 L408.0 163.6 L408.3 164.1 L408.7 164.6 L409.1 165.2 L409.4 166.1 L409.8 167.0 L410.1 167.9 L410.5 163.8 L411.0 159.9 L411.4 156.0 L411.7 154.9 L412.1 153.7 L412.5 152.3 L412.8 150.2 L413.2 148.1 L413.5 146.4 L413.9 145.0 L414.3 155.9 L414.7 167.2 L415.1 178.7 L415.5 178.4 L415.9 178.3 L416.2 177.5 L416.6 175.3 L416.9 173.2 L417.3 171.1 L417.7 169.3 L418.0 167.9 L418.4 166.5 L418.7 165.9 L419.1 166.2 L419.4 166.4 L419.8 166.6 L420.2 165.9 L420.5 165.2 L420.9 164.4 L421.2 163.9 L421.6 163.4 L422.0 162.5 L422.3 161.2 L422.7 160.0 L423.0 161.6 L423.4 162.4 L423.7 163.7 L424.1 165.2 L424.5 166.8 L424.8 168.4 L425.2 170.1 L425.5 171.0 L425.9 171.7 L426.3 172.0 L426.6 172.2 L427.0 172.6 L427.3 175.2 L427.7 177.9 L428.0 176.6 L428.4 174.6 L428.8 172.2 L429.1 169.9 L429.5 167.0 L429.8 163.0 L430.2 159.1 L430.6 156.6 L430.9 156.9 L431.3 156.8 L431.6 156.1 L432.0 154.2 L432.3 152.1 L432.7 150.0 L433.1 157.1 L433.5 164.1 L433.9 171.0 L434.3 177.8 L434.7 184.4 L435.1 182.2 L435.4 180.1 L435.8 178.5 L436.1 177.0 L436.5 175.5 L436.8 174.8 L437.2 173.6 L437.5 172.3 L437.9 172.4 L438.3 174.6 L438.6 176.9 L439.0 179.1 L439.3 181.0 L439.7 182.9 L440.0 184.9 L440.4 185.3 L440.8 185.0 L441.1 184.7 L441.5 185.6 L441.8 185.5 L442.2 185.4 L442.6 185.3 L442.9 183.1 L443.3 181.0 L443.6 178.8 L444.0 177.5 L444.3 180.5 L444.7 183.5 L445.1 186.0 L445.4 187.2 L445.8 188.3 L446.1 189.5 L446.5 191.8 L446.9 190.7 L447.2 189.5 L447.6 188.4 L447.9 187.3 L448.3 186.2 L448.6 184.8 L449.0 182.4 L449.4 177.7 L449.7 173.4 L450.1 170.1 L450.4 166.5 L450.8 162.6 L451.2 166.8 L451.6 170.9 L452.0 174.7 L452.4 178.7 L452.8 183.3 L453.1 185.6 L453.5 187.4 L453.8 188.3 L454.2 189.2 L454.6 190.2 L454.9 193.3 L455.3 196.4 L455.7 199.0 L456.1 200.0 L456.5 200.7 L456.9 201.4 L457.3 201.6 L457.6 199.8 L458.0 198.0 L458.4 197.0 L458.7 196.6 L459.1 196.1 L459.4 195.7 L459.8 195.3 L460.0 197.8 L460.4 197.7 L460.8 197.5 L461.2 197.3 L461.5 197.1 L461.9 195.3 L462.3 191.4 L462.7 187.4 L463.1 185.2 L463.5 186.4 L463.9 187.7 L464.2 188.5 L464.6 187.5 L465.0 186.6 L465.4 185.6 L465.8 184.2 L466.2 182.9 L466.6 184.3 L466.9 185.3 L467.3 186.3 L467.7 187.3 L468.1 190.9 L468.5 194.9 L468.9 198.9 L469.3 199.7 L469.6 193.6 L470.0 187.5 L470.4 183.9 L470.8 181.6 L471.2 179.3 L471.6 176.6 L472.0 173.6 L472.3 170.6 L472.8 165.6 L473.2 158.6 L473.6 152.8 L474.0 149.0 L474.4 145.9 L474.8 142.3 L475.2 144.1 L475.5 145.5 L475.9 146.7 L476.3 147.9 L476.6 150.5 L477.0 153.6 L477.3 156.5 L477.7 159.3 L478.1 162.1 L478.4 164.9 L478.8 167.3 L479.1 169.4 L479.5 167.5 L480.0 162.6 L480.4 156.8 L480.8 152.4 L481.2 150.2 L481.6 148.5 L482.0 148.2 L482.4 148.3 L482.8 149.0 L483.1 150.2 L483.5 151.7 L483.9 153.0 L484.3 154.1 L484.7 154.6 L485.1 153.2 L485.5 151.8 L485.8 150.3 L486.2 148.7 L486.6 147.6 L487.0 147.0 L487.4 147.2 L487.8 147.0 L488.2 152.1 L488.5 157.2 L488.9 162.2 L489.3 167.1 L489.7 162.3 L490.1 157.4 L490.5 152.6 L490.9 147.7 L491.2 145.3 L491.6 143.1 L492.0 141.3 L492.4 139.3 L492.8 141.3 L493.2 143.5 L493.6 145.6 L494.0 147.7 L494.3 149.7 L494.7 151.3 L495.1 152.8 L495.5 154.5 L495.9 156.6 L496.3 158.8 L496.7 160.7 L497.0 162.0 L497.4 163.3 L497.8 164.8 L498.2 167.7 L498.6 170.7 L499.0 170.6 L499.4 171.5 L499.7 172.5 L500.1 173.4 L500.5 171.7 L500.9 169.8 L501.3 167.8 L501.7 165.8 L502.1 163.3 L502.4 160.8 L502.8 161.0 L503.2 162.3 L503.6 163.7 L504.0 163.3 L504.4 161.7 L504.8 160.0 L505.1 156.4 L505.5 153.6 L505.9 150.0 L506.3 145.3 L506.6 139.5 L507.0 134.4 L507.4 130.0 L507.8 134.3 L508.2 138.4 L508.6 142.2 L509.0 145.4 L509.4 148.2 L509.8 150.3 L510.2 155.9 L510.5 161.6 L510.9 167.2 L511.3 170.2 L511.6 173.1 L512.0 176.0 L512.4 176.5 L512.7 175.1 L513.1 173.8 L513.5 174.9 L513.9 178.0 L514.3 181.2 L514.7 185.0 L515.1 189.6 L515.6 194.2 L515.9 192.9 L516.3 190.3 L516.7 187.7 L517.1 185.7 L517.5 184.8 L517.9 183.8 L518.3 182.8 L518.6 181.4 L519.1 176.7 L519.5 172.2 L519.9 168.1 L520.3 164.0 L520.7 160.1 L521.1 156.3 L521.5 155.0 L522.0 152.9 L522.4 150.4 L522.9 95.0 L523.3 135.2 L523.8 41.6 L524.2 68.9 L524.6 95.6 L525.0 121.8 L525.4 147.8 L525.0 165.2 L525.4 166.1 L525.7 168.2 L526.1 170.6 L526.4 172.9 L526.8 173.5 L527.1 173.2 L527.5 172.8 L527.9 172.5 L528.2 174.0 L528.6 175.5 L528.9 176.9 L529.3 179.9 L529.7 183.1 L530.0 186.2 L530.4 184.6 L530.7 181.8 L531.1 179.0 L531.4 176.6 L531.8 175.8 L532.2 174.9 L532.5 174.1 L532.9 176.4 L533.2 178.6 L533.6 180.8 L534.0 183.3 L534.3 186.2 L534.7 189.0 L535.0 191.7 L535.4 193.5 L535.7 195.2 L536.1 197.0 L536.5 199.2 L536.8 201.5 L537.2 203.8 L537.5 205.5 L537.9 203.1 L538.3 200.7 L538.6 198.3 L539.0 196.2 L539.3 194.2 L539.7 192.1 L540.0 190.5 L540.4 189.0 L540.8 187.4 L541.1 186.1 L541.5 184.8 L541.8 183.6 L542.2 182.3 L542.6 180.3 L542.9 180.1 L543.3 179.9 L543.6 180.5 L544.0 181.3 L544.3 182.1 L544.7 183.0 L545.1 183.8 L545.4 183.9 L545.8 184.0 L546.1 184.0 L546.5 183.9 L546.9 183.9 L547.2 183.3 L547.6 182.5 L547.9 181.6 L548.3 180.4 L548.6 178.6 L549.0 176.8 L549.4 175.0 L549.7 176.2 L550.1 177.3 L550.4 177.4 L550.8 176.7 L551.2 175.7 L551.5 174.7 L551.9 173.8 L552.2 173.2 L552.6 172.5 L552.9 172.6 L553.3 171.6 L553.7 170.5 L554.0 169.4 L554.4 167.9 L554.7 166.0 L555.1 164.2 L555.5 165.5 L555.8 167.4 L556.2 169.4 L556.5 171.3 L556.9 175.7 L557.2 180.3 L557.6 184.8 L558.0 187.5 L558.3 188.8 L558.7 190.1 L559.0 191.7 L559.4 194.8 L559.8 197.8 L560.1 200.8 L560.5 201.9 L560.8 203.0 L561.2 204.1 L561.5 203.6 L561.9 201.7 L562.3 199.9 L562.6 198.6 L563.0 197.9 L563.3 197.3 L563.7 196.7 L564.1 195.5 L564.4 194.3 L564.8 193.0 L565.1 191.7 L565.5 184.2 L565.9 176.8 L566.3 169.2 L566.6 161.4 L567.0 142.6 L567.4 123.8 L567.7 105.0 L568.1 86.3 L568.5 123.3 L568.9 160.3 L569.3 157.0 L569.7 153.5 L570.1 150.0 L570.5 151.0 L570.9 151.4 L571.2 152.3 L571.6 153.9 L571.9 155.8 L572.3 157.5 L572.7 158.5 L573.0 159.6 L573.4 160.6 L573.7 162.8 L574.1 165.0 L574.4 167.1 L574.8 168.5 L575.2 169.5 L575.5 167.6 L575.9 166.2 L576.2 165.7 L576.6 164.8 L577.0 163.5 L577.3 161.8 L577.7 160.0 L578.0 162.6 L578.4 165.2 L578.7 167.5 L579.1 169.7 L579.5 171.8 L579.8 174.1 L580.2 176.2 L580.5 172.6 L580.9 168.7 L581.3 164.8 L581.6 161.0 L582.0 157.2 L582.3 153.5 L582.7 150.0 L583.0 151.2 L583.4 152.5 L583.8 153.9 L584.1 155.3 L584.5 156.4 L584.8 157.5 L585.2 158.6 L585.6 159.6 L585.9 161.1 L586.3 162.6 L586.6 163.9 L587.0 164.3 L587.3 164.8 L587.7 165.2 L588.1 167.0 L588.4 169.0 L588.8 170.9 L589.1 171.7 L589.5 171.5 L589.9 171.3 L590.2 171.6 L590.6 176.2 L590.9 180.9 L591.3 185.6 L591.6 187.8 L592.0 189.4 L592.4 191.0 L592.7 193.1 L593.1 190.8 L593.4 188.6 L593.8 186.4 L594.2 184.7 L594.5 183.0 L594.9 181.3 L595.2 179.1 L595.6 174.5 L595.9 170.1 L596.3 166.2 L596.7 162.5 L597.0 158.6 L597.4 154.4 L597.7 150.0 L598.1 154.5 L598.5 158.8 L598.8 162.9 L599.2 166.8 L599.5 170.6 L599.9 174.7 L600.2 179.5 L600.7 186.3 L601.1 193.8 L601.5 202.7 L601.9 201.8 L602.2 200.4 L602.6 196.6 L602.9 192.8 L603.3 189.0 L603.6 185.0 L604.0 181.0 L604.4 173.8 L604.8 168.2 L605.3 163.4 L605.6 166.5 L606.0 168.3 L606.3 169.1 L606.7 170.0 L607.1 171.9 L607.4 176.9 L607.8 181.9 L608.1 187.6 L608.5 188.3 L608.8 188.5 L609.2 188.7 L609.6 191.2 L609.9 195.6 L610.3 200.0 L610.6 200.5 L611.0 200.0 L611.4 199.5 L611.7 199.0 L612.1 196.8 L612.4 194.3 L612.8 191.9 L613.1 188.8 L613.5 187.4 L613.9 185.9 L614.2 184.3 L614.6 182.2 L614.9 180.1 L615.3 178.0 L615.7 173.7 L616.0 169.1 L616.4 164.5 L616.8 159.8 L617.2 155.3 L617.5 150.8 L617.9 146.5 L618.3 142.2 L618.7 148.8 L619.1 155.4 L619.5 161.6 L619.9 167.5 L620.3 173.4 L620.7 174.6 L621.0 175.7 L621.4 176.9 L621.7 177.5 L622.1 178.2 L622.5 178.9 L622.8 180.3 L623.2 176.3 L623.5 172.1 L623.9 167.1 L624.3 161.5 L624.6 156.4 L625.0 151.7 L625.3 147.5 L625.7 152.2 L626.0 157.4 L626.4 162.2 L626.8 166.4 L627.1 170.3 L627.5 174.0 L627.8 178.0 L628.2 178.4 L628.6 178.9 L628.9 181.1 L629.3 183.5 L629.6 185.8 L630.0 188.1 L630.3 190.5 L630.7 191.1 L631.1 191.2 L631.4 190.0 L631.8 188.7 L632.1 187.5 L632.5 185.5 L632.9 183.4 L633.2 181.3 L633.6 180.5 L633.9 180.8 L634.3 181.0 L634.6 180.8 L635.0 179.1 L635.4 177.5 L635.7 178.0 L636.1 179.5 L636.4 181.1 L636.8 182.8 L637.2 184.4 L637.5 186.0 L637.9 187.7 L638.2 185.3 L638.6 181.1 L638.9 176.8 L639.3 172.5 L639.7 171.7 L640.0 171.5 L640.4 171.4 L640.7 173.1 L641.1 173.3 L641.4 173.5 L641.8 173.8 L642.2 175.1 L642.5 176.4 L642.9 177.7 L643.2 179.7 L643.6 181.5 L644.0 183.4 L644.3 185.5 L644.7 187.9 L645.0 190.3 L645.4 192.7 L645.7 191.1 L646.1 189.4 L646.5 187.8 L646.8 186.9 L647.2 186.4 L647.5 185.9 L647.9 185.1 L648.3 185.3 L648.6 185.5 L649.0 185.6 L649.3 183.5 L649.7 181.3 L650.0 179.2 L650.4 178.6 L650.8 180.6 L651.1 182.5 L651.5 183.8 L651.8 183.7 L652.2 183.7 L652.6 183.6 L652.9 183.1 L653.3 179.7 L653.6 176.4 L654.0 175.1 L654.3 175.0 L654.7 174.8 L655.1 174.4 L655.4 173.0 L655.8 170.6 L656.1 168.1 L656.5 164.6 L656.9 161.0 L657.2 157.4 L657.6 154.6 L657.9 152.3 L658.3 150.5 L658.8 148.4 L659.2 146.0 L659.6 143.4 L660.0 140.7 L660.4 190.0 L660.8 191.2 L661.2 192.1 L661.5 192.9 L661.9 193.5 L662.2 194.7 L662.6 197.5 L662.9 200.3 L663.3 200.3 L663.7 199.5 L664.0 198.5 L664.4 197.6 L664.7 196.5 L665.1 195.3 L665.5 194.1 L665.8 192.4 L666.2 191.8 L666.5 191.2 L666.9 190.6 L667.2 189.7 L667.6 188.6 L668.0 187.6 L668.3 186.9 L668.7 184.7 L669.0 182.5 L669.4 180.6 L669.8 181.0 L670.1 181.5 L670.5 181.9 L670.9 179.1 L671.3 176.1 L671.7 173.1" stroke="#3a3a3a" stroke-width="1.5"/>
<path d="M373.8 194.5 L374.1 193.0 L374.5 191.6 L374.8 190.2 L375.2 188.7 L375.6 187.3 L375.9 185.8 L376.3 184.4 L376.6 183.0 L377.0 181.6 L377.3 180.1 L377.7 178.7 L378.1 176.1 L378.4 173.3 L378.8 170.4 L379.2 147.9 L379.6 126.4 L379.9 105.1 L380.3 83.9 L380.7 62.7 L381.1 41.6 L381.5 56.7 L381.9 71.7 L382.3 86.5 L382.6 101.8 L383.0 117.3 L383.4 133.1 L383.8 149.1 L384.2 154.8 L384.6 160.5 L385.0 166.1 L385.4 169.6 L385.8 172.6 L386.1 175.6 L386.5 178.5 L386.8 181.6 L387.2 185.0 L387.6 188.3 L387.9 188.8 L388.3 189.3 L388.6 188.7 L389.0 188.1 L389.3 187.5 L389.7 186.9 L390.1 187.6 L390.4 188.4 L390.8 189.1 L391.1 189.8 L391.5 190.0 L391.9 190.0 L392.2 189.9 L392.6 189.8 L392.9 190.0 L393.3 190.8 L393.6 191.6 L394.0 192.5 L394.4 193.0 L394.7 192.8 L395.1 192.5 L395.4 191.8 L395.8 191.0 L396.2 190.3 L396.5 189.6 L396.9 188.9 L397.2 188.2 L397.6 187.1 L397.9 183.1 L398.3 179.1 L398.7 175.1 L399.0 171.4 L399.4 167.7 L399.7 164.1 L400.1 160.3 L400.6 131.4 L401.0 135.9 L401.3 140.5 L401.7 145.1 L402.0 149.5 L402.4 153.6 L402.8 157.6 L403.1 161.5 L403.5 165.5 L403.9 169.6 L404.2 172.5 L404.6 175.4 L404.9 178.4 L405.3 181.5 L405.7 184.7 L406.0 187.8 L406.4 190.9 L406.8 186.9 L407.2 183.0 L407.6 179.0 L408.0 176.0 L408.3 173.1 L408.7 170.2 L409.1 167.3 L409.4 164.5 L409.8 161.7 L410.1 158.9 L410.5 153.7 L410.9 148.4 L411.2 142.9 L411.6 137.4 L412.0 132.0 L412.4 126.7 L412.7 122.0 L413.1 117.2 L413.5 112.2 L413.9 106.9 L414.2 101.3 L414.6 96.0 L415.1 151.9 L415.5 149.1 L415.9 146.8 L416.2 144.7 L416.6 142.7 L417.0 140.2 L417.3 137.5 L417.7 135.0 L418.1 137.4 L418.5 139.6 L418.9 141.9 L419.3 144.1 L419.8 146.5 L420.2 149.0 L420.6 145.1 L421.0 141.3 L421.4 137.7 L421.8 148.1 L422.2 158.6 L422.7 169.4 L423.1 174.3 L423.5 179.2 L423.9 184.3 L424.3 189.4 L424.7 194.7 L425.0 192.3 L425.4 190.0 L425.7 187.7 L426.1 185.0 L426.4 182.3 L426.8 176.0 L427.2 169.8 L427.6 163.9 L427.9 158.1 L428.3 152.3 L428.7 146.5 L429.1 140.9 L429.4 135.1 L429.8 129.0 L430.2 122.6 L430.6 139.0 L431.0 155.2 L431.4 171.3 L431.8 175.5 L432.2 179.4 L432.5 183.0 L432.9 186.6 L433.2 190.2 L433.6 194.8 L434.0 199.3 L434.3 199.3 L434.7 199.2 L435.0 198.6 L435.4 197.7 L435.7 196.9 L436.1 196.1 L436.5 195.5 L436.8 192.8 L437.2 190.2 L437.5 187.5 L437.9 184.8 L438.3 182.0 L438.6 179.2 L439.0 176.4 L439.3 170.9 L439.7 164.9 L440.1 158.9 L440.4 153.0 L440.8 147.4 L441.1 141.7 L441.5 136.4 L441.8 144.2 L442.2 151.8 L442.5 159.5 L442.9 167.5 L443.2 175.7 L443.6 179.9 L444.0 184.4 L444.4 189.0 L444.8 193.5 L445.2 198.1 L445.6 196.1 L446.0 194.1 L446.3 192.1 L446.7 190.0 L447.0 188.4 L447.4 186.9 L447.8 185.4 L448.1 183.8 L448.5 182.3 L448.8 180.8 L449.2 179.3 L449.5 177.9 L449.9 176.0 L450.3 173.7 L450.6 171.6 L451.0 169.4 L451.3 167.6 L451.7 166.3 L452.1 164.8 L452.4 163.2 L452.8 161.3 L453.1 163.0 L453.5 164.8 L453.8 166.7 L454.2 168.7 L454.6 170.5 L454.9 172.0 L455.3 173.1 L455.6 175.1 L456.0 177.2 L456.4 179.4 L456.7 181.5 L457.1 183.7 L457.4 185.8 L457.8 188.0 L458.2 189.0 L458.5 190.1 L458.9 191.3 L459.3 192.9 L459.6 194.5 L460.0 196.1 L460.4 194.2 L460.8 191.6 L461.2 188.9 L461.5 186.2 L461.9 183.7 L462.3 181.4 L462.7 179.2 L463.1 177.0 L463.5 175.0 L463.9 173.2 L464.2 171.5 L464.6 169.7 L465.0 171.1 L465.4 172.2 L465.8 173.3 L466.2 174.5 L466.6 175.7 L466.9 177.0 L467.3 178.2 L467.7 179.5 L468.1 177.6 L468.5 175.9 L468.9 174.1 L469.3 172.3 L469.6 171.0 L470.0 169.7 L470.4 168.3 L470.8 167.0 L471.2 166.0 L471.6 165.1 L472.0 164.2 L472.3 163.0 L472.7 161.0 L473.1 159.1 L473.5 157.1 L473.9 155.2 L474.2 153.4 L474.6 151.8 L475.0 150.4 L475.3 149.2 L475.7 148.2 L476.0 147.0 L476.5 149.4 L476.9 151.9 L477.3 154.6 L477.7 157.3 L478.1 160.2 L478.5 163.4 L478.9 161.3 L479.3 159.1 L479.7 156.9 L480.1 154.7 L480.4 157.4 L480.8 160.3 L481.2 163.4 L481.6 166.5 L482.0 169.9 L482.4 173.0 L482.8 176.0 L483.1 178.4 L483.5 179.0 L483.9 179.6 L484.3 180.3 L484.7 181.4 L485.1 182.4 L485.5 183.4 L485.8 184.3 L486.2 184.5 L486.6 180.9 L487.0 177.2 L487.4 173.8 L487.8 170.6 L488.2 167.5 L488.5 164.3 L488.9 161.5 L489.3 159.2 L489.7 155.1 L490.1 151.0 L490.5 146.8 L490.9 142.6 L491.3 132.9 L491.7 123.0 L492.1 112.9 L492.5 102.7 L492.9 92.5 L493.3 106.8 L493.7 121.1 L494.2 135.5 L494.6 149.8 L494.9 158.7 L495.3 167.4 L495.7 176.1 L496.0 184.8 L496.4 193.5 L496.8 194.1 L497.1 194.6 L497.5 195.2 L497.9 195.4 L498.2 194.9 L498.6 194.4 L499.0 190.2 L499.4 186.2 L499.7 183.3 L500.1 180.3 L500.5 177.3 L500.9 174.5 L501.3 172.0 L501.7 169.4 L502.1 166.9 L502.4 164.2 L502.8 161.4 L503.2 158.5 L503.6 155.7 L504.0 152.2 L504.4 148.2 L504.8 144.3 L505.1 139.1 L505.5 135.0 L505.8 131.5 L506.2 128.0 L506.6 124.3 L506.9 120.0 L507.3 115.3 L507.6 110.7 L508.0 106.3 L508.3 118.3 L508.7 130.4 L509.0 142.4 L509.4 154.4 L509.8 157.3 L510.2 160.6 L510.6 163.9 L511.0 167.2 L511.4 170.6 L511.9 173.9 L512.2 172.1 L512.6 170.3 L512.9 168.0 L513.3 165.2 L513.7 162.3 L514.0 159.4 L514.4 144.1 L514.8 129.6 L515.2 114.7 L515.6 99.5 L516.0 84.0 L516.4 94.3 L516.8 104.5 L517.1 114.6 L517.5 124.5 L517.9 134.3 L518.3 144.0 L518.6 153.6 L519.0 155.5 L519.4 157.5 L519.8 159.5 L520.2 161.6 L520.6 162.9 L521.0 164.0 L521.3 165.1 L521.7 166.2 L522.1 167.3 L522.5 168.5 L522.9 169.7 L523.3 170.9 L523.7 172.2 L524.0 173.4 L524.4 174.7 L524.8 175.9 L525.2 176.8 L525.6 177.7 L526.0 178.6 L526.4 179.6 L526.7 180.9 L527.1 182.1 L527.5 183.4 L527.9 184.6 L528.3 183.0 L528.6 181.3 L529.0 179.7 L529.3 178.1 L529.7 176.4 L530.0 174.8 L530.4 177.4 L530.7 180.0 L531.1 182.9 L531.4 185.9 L531.8 188.8 L532.2 191.8 L532.5 194.2 L532.9 190.3 L533.2 186.4 L533.6 182.5 L534.0 178.7 L534.3 174.9 L534.7 171.2 L535.0 167.4 L535.4 166.3 L535.7 165.5 L536.1 164.6 L536.5 163.6 L536.8 162.5 L537.2 161.4 L537.5 160.0 L537.9 164.9 L538.3 170.0 L538.6 174.6 L539.0 178.9 L539.3 182.9 L539.7 186.6 L540.0 190.8 L540.4 176.0 L540.8 161.2 L541.2 146.3 L541.6 131.2 L542.0 116.4 L542.4 138.2 L542.7 159.7 L543.1 181.8 L543.4 171.7 L543.8 161.8 L544.2 151.6 L544.6 140.8 L545.0 130.0 L545.4 155.4 L545.8 180.8 L546.2 167.0 L546.5 152.8 L546.9 138.2 L547.2 123.6 L547.6 108.8 L548.0 121.9 L548.3 134.9 L548.7 147.7 L549.1 160.2 L549.5 131.8 L550.0 103.8 L550.1 192.6 L550.5 193.4 L550.9 194.4 L551.3 195.8 L551.7 197.4 L552.1 198.8 L552.5 196.2 L552.8 193.5 L553.2 190.8 L553.6 187.4 L554.0 183.9 L554.3 180.5 L554.7 177.0 L555.1 173.7 L555.5 164.6 L555.8 155.6 L556.2 146.7 L556.6 139.0 L557.0 131.2 L557.3 123.2 L557.7 114.9 L558.1 106.3 L558.5 112.0 L558.9 117.7 L559.2 123.3 L559.6 129.8 L560.0 136.8 L560.4 143.8 L560.7 150.7 L561.1 155.6 L561.5 160.3 L561.9 165.0 L562.2 169.7 L562.6 175.1 L563.0 170.1 L563.4 165.0 L563.8 160.0 L564.1 155.4 L564.5 150.7 L564.9 146.2 L565.3 141.6 L565.6 136.7 L566.0 132.0 L566.4 127.6 L566.8 144.5 L567.2 161.4 L567.6 178.5 L568.0 175.2 L568.4 172.3 L568.7 170.5 L569.1 168.7 L569.4 166.9 L569.8 165.0 L570.1 161.7 L570.5 159.9 L570.9 157.9 L571.2 156.1 L571.6 154.4 L571.9 152.8 L572.3 151.4 L572.7 150.0 L573.0 152.0 L573.4 153.8 L573.7 155.4 L574.1 157.0 L574.4 158.9 L574.8 161.4 L575.2 164.2 L575.5 160.4 L575.9 156.5 L576.3 152.1 L576.6 147.7 L577.0 143.2 L577.3 138.6 L577.7 133.9 L578.1 140.7 L578.4 147.4 L578.8 154.1 L579.1 160.7 L579.5 167.1 L579.8 173.4 L580.2 179.8 L580.5 178.4 L580.9 177.2 L581.3 175.9 L581.6 174.7 L582.0 173.4 L582.3 172.1 L582.7 170.7 L583.1 165.5 L583.4 160.0 L583.8 154.3 L584.2 148.6 L584.6 143.1 L584.9 137.9 L585.3 132.9 L585.7 127.6 L586.1 134.2 L586.5 140.6 L586.9 146.5 L587.3 151.9 L587.7 156.8 L588.1 159.9 L588.4 163.2 L588.8 166.4 L589.1 169.7 L589.5 173.2 L589.9 176.9 L590.2 180.5 L590.6 179.5 L590.9 178.4 L591.3 177.1 L591.6 175.9 L592.0 174.7 L592.4 173.3 L592.7 171.5 L593.1 171.8 L593.4 172.2 L593.8 172.6 L594.2 173.8 L594.5 175.0 L594.9 176.2 L595.2 177.5 L595.6 179.0 L595.9 180.5 L596.3 182.0 L596.7 183.6 L597.0 184.7 L597.4 185.6 L597.7 186.6 L598.1 187.9 L598.5 189.2 L598.8 190.5 L599.2 191.9 L599.5 193.2 L599.9 194.6 L600.2 196.2 L600.6 196.8 L601.0 197.4 L601.3 197.9 L601.7 198.1 L602.0 198.4 L602.4 198.6 L602.8 198.9 L603.1 196.1 L603.5 193.2 L603.8 190.4 L604.2 187.6 L604.5 185.5 L604.9 183.5 L605.3 181.5 L605.6 179.2 L606.0 177.2 L606.3 175.3 L606.7 173.5 L607.1 171.7 L607.4 169.2 L607.8 165.9 L608.1 162.5 L608.5 159.0 L608.9 156.0 L609.3 153.6 L609.6 151.3 L610.0 149.1 L610.4 146.6 L610.8 144.0 L611.1 141.5 L611.5 139.0 L611.9 145.0 L612.4 150.9 L612.8 156.6 L613.1 160.1 L613.5 163.6 L613.9 167.4 L614.2 171.2 L614.6 175.0 L614.9 179.1 L615.3 183.5 L615.7 185.0 L616.0 186.5 L616.4 187.9 L616.7 189.2 L617.1 190.5 L617.4 191.8 L617.8 193.1 L618.2 192.4 L618.5 191.7 L618.9 191.1 L619.2 190.4 L619.6 189.1 L620.0 187.7 L620.3 186.2 L620.7 183.0 L621.0 180.5 L621.4 178.3 L621.7 176.0 L622.1 173.8 L622.5 171.6 L622.8 169.4 L623.2 168.0 L623.5 166.5 L623.9 165.0 L624.3 163.3 L624.6 161.5 L625.0 159.6 L625.3 157.5 L625.7 159.6 L626.0 161.7 L626.4 163.8 L626.8 165.9 L627.1 168.0 L627.5 170.1 L627.8 171.9 L628.2 164.7 L628.7 157.2 L629.1 149.6 L629.5 141.9 L629.9 134.2 L630.3 126.4 L630.7 138.1 L631.2 149.8 L631.6 161.0 L632.0 147.9 L632.4 135.1 L632.8 122.6 L632.9 172.6 L633.2 166.4 L633.6 160.3 L633.9 154.2 L634.3 148.2 L634.7 142.0 L635.0 136.0 L635.4 130.0 L635.4 182.6 L635.7 178.8 L636.1 174.8 L636.4 170.5 L636.8 165.9 L637.2 161.0 L637.5 156.7 L637.9 153.2 L638.2 148.5 L638.6 143.8 L638.9 139.9 L639.3 137.0 L639.7 133.7 L640.0 129.9 L640.4 125.2 L640.7 119.9 L641.1 115.0 L641.5 122.9 L641.8 130.5 L642.2 137.9 L642.5 145.1 L642.9 151.9 L643.2 155.2 L643.6 159.9 L644.0 164.6 L644.3 169.4 L644.7 174.1 L645.0 179.3 L645.4 184.6 L645.8 182.7 L646.2 180.6 L646.6 177.2 L647.0 173.6 L647.4 170.3 L647.9 135.0 L648.3 143.5 L648.7 152.0 L649.2 160.6 L649.6 131.6 L650.0 102.6 L650.4 73.8 L650.8 102.5 L651.2 131.2 L651.7 159.9 L652.1 166.6 L652.5 173.6 L652.9 180.9 L653.3 183.6 L653.6 186.3 L654.0 188.7 L654.3 190.8 L654.7 192.9 L655.1 195.0 L655.4 197.0 L655.8 193.8 L656.1 190.5 L656.5 187.3 L656.9 184.2 L657.2 181.6 L657.6 179.1 L657.9 176.5 L658.3 174.3 L658.6 171.9 L659.0 169.6 L659.4 167.2 L659.7 164.9 L660.1 162.0 L660.4 159.0 L660.8 156.7 L661.2 154.4 L661.5 152.5 L661.9 150.8 L662.2 149.1 L662.6 147.3 L662.9 145.6 L663.3 140.2 L663.7 134.9 L664.0 129.4 L664.4 123.9 L664.8 118.3 L665.1 112.9 L665.5 107.6 L665.9 124.9 L666.3 142.6 L666.7 160.5 L667.1 157.3 L667.5 153.7 L668.0 150.0 L668.4 153.1 L668.8 156.1 L669.2 159.0 L669.6 161.7 L670.0 164.7 L670.3 156.8 L670.7 149.0 L671.0 141.4 L671.4 147.7 L671.7 153.9" stroke="#e8363c" stroke-width="1.5"/>
</g>
<rect x="200.5" y="145.5" width="63.0" height="32.0" fill="#fff" stroke="#8a8a8a" stroke-width="1"/><path d="M202.4 153.7H226.5" stroke="#4a4a4a" stroke-width="1.5"/><path d="M202.4 169.4H226.5" stroke="#e2606a" stroke-width="1.6"/><text x="229.7" y="158.1" font-size="11.7" textLength="32" lengthAdjust="spacingAndGlyphs">Vip3Aa</text><text x="229.7" y="172.4" font-size="11.7" textLength="32" lengthAdjust="spacingAndGlyphs">Vip3Ad</text><rect x="570.5" y="35.5" width="66.0" height="33.0" fill="#fff" stroke="#8a8a8a" stroke-width="1"/><path d="M572 44.3H599.4" stroke="#4a4a4a" stroke-width="1.5"/><path d="M572 60.3H599.4" stroke="#e2606a" stroke-width="1.6"/><text x="601.2" y="48.6" font-size="11.7" textLength="32" lengthAdjust="spacingAndGlyphs">Vip3Aa</text><text x="601.2" y="64.6" font-size="11.7" textLength="32" lengthAdjust="spacingAndGlyphs">Vip3Ad</text>
<text x="0.5" y="17.9" font-size="23.5" textLength="14.3" lengthAdjust="spacingAndGlyphs">A</text><text x="327.4" y="16.7" font-size="23.5" textLength="14.8" lengthAdjust="spacingAndGlyphs">B</text><text x="40.4" y="218.00" font-size="12" text-anchor="end" textLength="13.4" lengthAdjust="spacingAndGlyphs">0.4</text><text x="40.4" y="189.57" font-size="12" text-anchor="end" textLength="13.4" lengthAdjust="spacingAndGlyphs">0.6</text><text x="40.4" y="161.14" font-size="12" text-anchor="end" textLength="13.4" lengthAdjust="spacingAndGlyphs">0.8</text><text x="40.4" y="132.71" font-size="12" text-anchor="end" textLength="13.4" lengthAdjust="spacingAndGlyphs">1.0</text><text x="40.4" y="104.29" font-size="12" text-anchor="end" textLength="13.4" lengthAdjust="spacingAndGlyphs">1.2</text><text x="40.4" y="75.86" font-size="12" text-anchor="end" textLength="13.4" lengthAdjust="spacingAndGlyphs">1.4</text><text x="40.4" y="47.43" font-size="12" text-anchor="end" textLength="13.4" lengthAdjust="spacingAndGlyphs">1.6</text><text x="40.4" y="19.00" font-size="12" text-anchor="end" textLength="13.4" lengthAdjust="spacingAndGlyphs">1.8</text><text x="49.70" y="233" font-size="12" text-anchor="middle" textLength="6.6" lengthAdjust="spacingAndGlyphs">0</text><text x="109.15" y="233" font-size="12" text-anchor="middle" textLength="6.6" lengthAdjust="spacingAndGlyphs">5</text><text x="168.60" y="233" font-size="12" text-anchor="middle" textLength="13.4" lengthAdjust="spacingAndGlyphs">10</text><text x="228.05" y="233" font-size="12" text-anchor="middle" textLength="13.4" lengthAdjust="spacingAndGlyphs">15</text><text x="287.50" y="233" font-size="12" text-anchor="middle" textLength="13.4" lengthAdjust="spacingAndGlyphs">20</text><text x="364.0" y="206.70" font-size="12" text-anchor="end" textLength="13.7" lengthAdjust="spacingAndGlyphs">0.4</text><text x="364.0" y="168.36" font-size="12" text-anchor="end" textLength="13.7" lengthAdjust="spacingAndGlyphs">0.8</text><text x="364.0" y="130.02" font-size="12" text-anchor="end" textLength="13.7" lengthAdjust="spacingAndGlyphs">1.2</text><text x="364.0" y="91.68" font-size="12" text-anchor="end" textLength="13.7" lengthAdjust="spacingAndGlyphs">1.6</text><text x="364.0" y="53.34" font-size="12" text-anchor="end" textLength="13.7" lengthAdjust="spacingAndGlyphs">2.0</text><text x="364.0" y="15.00" font-size="12" text-anchor="end" textLength="13.7" lengthAdjust="spacingAndGlyphs">2.4</text><text x="373.70" y="228.8" font-size="12" text-anchor="middle" textLength="6.2" lengthAdjust="spacingAndGlyphs">0</text><text x="449.55" y="228.8" font-size="12" text-anchor="middle" textLength="17.5" lengthAdjust="spacingAndGlyphs">200</text><text x="525.40" y="228.8" font-size="12" text-anchor="middle" textLength="17.5" lengthAdjust="spacingAndGlyphs">400</text><text x="601.25" y="228.8" font-size="12" text-anchor="middle" textLength="17.5" lengthAdjust="spacingAndGlyphs">600</text><text x="677.10" y="228.8" font-size="12" text-anchor="middle" textLength="17.5" lengthAdjust="spacingAndGlyphs">800</text><text x="145.5" y="255" font-size="15" textLength="57" lengthAdjust="spacingAndGlyphs">Time (ns)</text><text x="478.6" y="251.3" font-size="14" textLength="97.5" lengthAdjust="spacingAndGlyphs">Residue number</text><text x="0" y="0" font-size="14" textLength="59.5" lengthAdjust="spacingAndGlyphs" transform="translate(14.6,146.8) rotate(-90)">RMSD (&#197;)</text><text x="0" y="0" font-size="14" textLength="57.3" lengthAdjust="spacingAndGlyphs" transform="translate(334.1,146.8) rotate(-90)">RMSF (&#197;)</text>
</svg>
</body></html>
